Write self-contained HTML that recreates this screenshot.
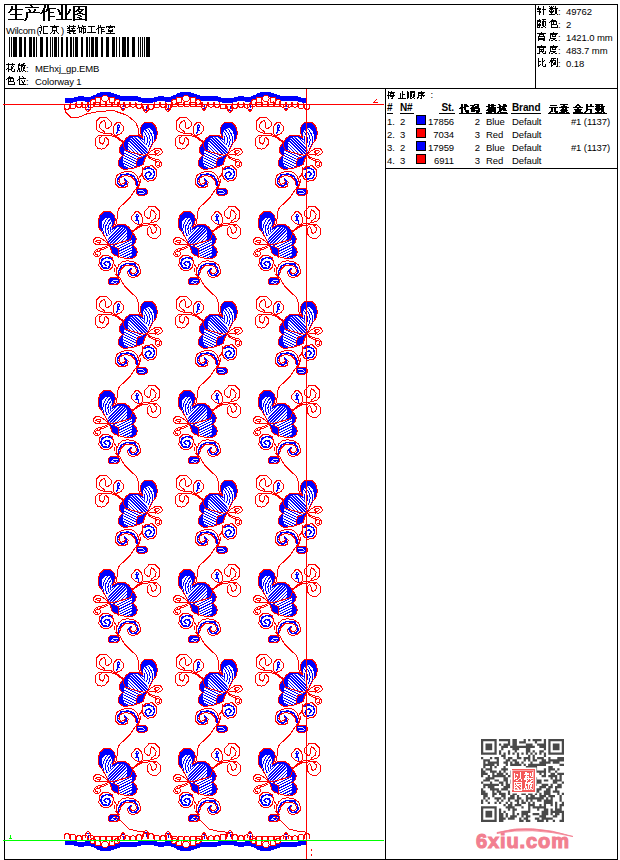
<!DOCTYPE html><html><head><meta charset="utf-8"><style>html,body{margin:0;padding:0;background:#fff;width:620px;height:860px;overflow:hidden}svg{position:absolute;left:0;top:0}text{font-family:"Liberation Sans",sans-serif}</style></head><body>
<svg width="620" height="860" viewBox="0 0 620 860">
<defs>
<clipPath id="cLobe"><path d="M30,20 L54,27 L54,31 L59,44 L30,46Z"/></clipPath><clipPath id="cPet"><path d="M52,8 L72,8 L72,36 L59,44 L54,31 L54,27Z"/></clipPath>
<g id="motif">
<clipPath id="cUW"><path d="M38.2,40.4 L38.0,33.0 L40.0,28.4 L44.0,27.3 L48.0,27.5 L51.0,29.0 L53.2,30.2 L53.2,25.0 L53.5,22.3 L55.0,19.2 L57.5,18.2 L60.0,18.5 L63.0,21.3 L63.8,26.0 L63.8,32.0 L61.3,37.0 L58.0,43.2 L55.0,44.8 L44.4,42.8Z"/></clipPath>
<clipPath id="cLW"><path d="M33.8,40.1 L44.4,43.6 L55.5,45.6 L50.0,47.3 L46.8,49.3 L46.2,57.5 L42.0,59.0 L37.0,58.8 L34.0,56.8 L33.3,52.0 L33.3,48.0 L33.6,45.5Z"/></clipPath>
<path d="M33.4,32.3 L36.6,27.7 L40.5,25.2 L47.6,25.2 L50.8,26.5 L53.2,28.2 L51.2,24.5 L50.1,19.6 L51.5,15.5 L55.1,12.3 L61.8,12.3 L65.5,15.8 L67.5,22.4 L66.5,28.5 L63.2,33.0 L60.0,38.5 L57.3,44.5 L54.0,45.2 L47.6,43.9 L41.1,41.9 L35.3,40.0 L33.5,36.0Z M33.4,32.3 L30.2,36.8 L29.2,39.4 L30.2,43.2 L32.5,45.5 L29.5,49.0 L28.2,52.3 L28.9,56.1 L33.4,59.4 L41.1,58.7 L46.3,57.4 L50.0,56.0 L53.2,54.2 L54.8,49.0 L57.3,44.5 L54.0,45.2 L47.6,43.9 L41.1,41.9 L35.3,40.0 L33.5,36.0Z" fill="#00f"/>
<path d="M38.2,40.4 L38.0,33.0 L40.0,28.4 L44.0,27.3 L48.0,27.5 L51.0,29.0 L53.2,30.2 L53.2,25.0 L53.5,22.3 L55.0,19.2 L57.5,18.2 L60.0,18.5 L63.0,21.3 L63.8,26.0 L63.8,32.0 L61.3,37.0 L58.0,43.2 L55.0,44.8 L44.4,42.8Z M33.8,40.1 L44.4,43.6 L55.5,45.6 L50.0,47.3 L46.8,49.3 L46.2,57.5 L42.0,59.0 L37.0,58.8 L34.0,56.8 L33.3,52.0 L33.3,48.0 L33.6,45.5Z" fill="#fff"/>
<g clip-path="url(#cUW)"><path d="M53.9,34.0 A8,8 0 0,0 45.4,22.2 M56.1,35.2 A10.5,10.5 0 0,0 44.9,19.7 M58.3,36.5 A13,13 0 0,0 44.4,17.3 M60.4,37.8 A15.5,15.5 0 0,0 43.9,14.8" stroke="#00f" fill="none" clip-path="url(#cPet)"/></g>
<g clip-path="url(#cUW)"><path d="M44.5,-4.3 L83.8,35.0 M42.9,-2.8 L82.3,36.6 M41.4,-1.2 L80.7,38.1 M39.8,0.3 L79.2,39.7 M38.3,1.9 L77.6,41.2 M36.7,3.5 L76.0,42.8 M35.2,5.0 L74.5,44.3 M33.6,6.6 L72.9,45.9 M32.1,8.1 L71.4,47.4 M30.5,9.7 L69.8,49.0 M28.9,11.2 L68.3,50.6 M27.4,12.8 L66.7,52.1 M25.8,14.3 L65.2,53.7 M24.3,15.9 L63.6,55.2 M22.7,17.5 L62.0,56.8 M21.2,19.0 L60.5,58.3 M19.6,20.6 L58.9,59.9 M18.1,22.1 L57.4,61.4 M16.5,23.7 L55.8,63.0 M14.9,25.2 L54.3,64.6 M13.4,26.8 L52.7,66.1 M11.8,28.3 L51.2,67.7 M10.3,29.9 L49.6,69.2 M8.7,31.5 L48.0,70.8 M7.2,33.0 L46.5,72.3 M5.6,34.6 L44.9,73.9" stroke="#00f" fill="none" clip-path="url(#cLobe)"/></g>
<g clip-path="url(#cLW)"><path d="M25.8,-1.5 L94.5,32.8 M24.7,0.6 L93.5,35.0 M23.7,2.7 L92.4,37.1 M22.6,4.9 L91.3,39.3 M21.5,7.0 L90.3,41.4 M20.5,9.2 L89.2,43.6 M19.4,11.3 L88.1,45.7 M18.3,13.5 L87.0,47.8 M17.2,15.6 L86.0,50.0 M16.2,17.8 L84.9,52.1 M15.1,19.9 L83.8,54.3 M14.0,22.1 L82.7,56.4 M12.9,24.2 L81.7,58.6 M11.9,26.4 L80.6,60.7 M10.8,28.5 L79.5,62.9 M9.7,30.7 L78.4,65.0 M8.6,32.8 L77.4,67.2 M7.6,34.9 L76.3,69.3 M6.5,37.1 L75.2,71.5 M5.4,39.2 L74.2,73.6 M4.4,41.4 L73.1,75.8 M3.3,43.5 L72.0,77.9 M2.2,45.7 L70.9,80.0 M1.1,47.8 L69.9,82.2 M0.1,50.0 L68.8,84.3 M-1.0,52.1 L67.7,86.5 M-2.1,54.3 L66.6,88.6 M-3.2,56.4 L65.6,90.8 M-4.2,58.6 L64.5,92.9 M-5.3,60.7 L63.4,95.1 M-6.4,62.9 L62.3,97.2 M-7.5,65.0 L61.3,99.4 M-8.5,67.1 L60.2,101.5" stroke="#00f" fill="none"/></g>
<path d="M33.4,32.3 L36.6,27.7 L40.5,25.2 L47.6,25.2 L50.8,26.5 L53.2,28.2 L51.2,24.5 L50.1,19.6 L51.5,15.5 L55.1,12.3 L61.8,12.3 L65.5,15.8 L67.5,22.4 L66.5,28.5 L63.2,33.0 L60.0,38.5 L57.3,44.5 L54.0,45.2 L47.6,43.9 L41.1,41.9 L35.3,40.0 L33.5,36.0Z" stroke="#f00" stroke-width="1" fill="none"/>
<path d="M33.4,32.3 L30.2,36.8 L29.2,39.4 L30.2,43.2 L32.5,45.5 L29.5,49.0 L28.2,52.3 L28.9,56.1 L33.4,59.4 L41.1,58.7 L46.3,57.4 L50.0,56.0 L53.2,54.2 L54.8,49.0 L57.3,44.5 L54.0,45.2 L47.6,43.9 L41.1,41.9 L35.3,40.0 L33.5,36.0Z" stroke="#f00" stroke-width="1" fill="none"/>
<path d="M52,47 L47.5,48.8 L46.5,53 L46.8,58.2 M34.3,46 L32,45.5" stroke="#f00" stroke-width="1" fill="none"/>
<path d="M14.6,23.4 L8.4,21.4 L6.2,18.8 L6.2,11.1 L10.1,7.2 L16.5,7.2 L21.4,12.4 L21.4,15.6 L18.1,18.5 L16.2,18.5 L15.2,16.6 L15.5,12.4 L13.9,10.5 L12.0,11.4 L9.4,14.6 L10.1,18.5 L14.3,21.7 L14.6,23.4 M12.0,26.3 L8.4,25.3 L5.5,28.5 L5.2,35.0 L7.8,38.2 L11.3,39.2 L14.9,38.2 L18.1,34.3 L18.5,29.8 L15.9,27.2 L14.6,28.5 L14.3,31.7 L12.6,34.3 L10.4,33.0 L9.1,31.1 L9.4,28.2 L12.0,26.3 M23.3,17.5 L24.3,15.3 L27.5,12.1 L29.7,12.1 L33.6,16.9 L33.6,20.1 L31.0,23.4 L27.5,25.0 L25.2,25.0 L23.3,23.4Z" stroke="#f00" fill="none"/>
<path d="M14.3,23.4 L21.4,24 L24,25.4 L28,27.5 L33.6,32 M8.45,25.3 L15.5,25.3 L23.3,26.2 L28,28.5 L33,33" stroke="#f00" fill="none"/>
<path d="M26.5,24 L28,20 L27.2,16 L28.5,14.5 L29.5,17 L28,19.5 L30.5,21.5" stroke="#00f" stroke-width="1.2" fill="none"/>
<path d="M57.5,45 L58.7,43 L62,40.5 L65.8,38.2 L69.6,38.2 L71.7,40.1 L72.5,42.4 L70.4,44.3 L68.4,45.5 L65.8,44.3 L64.6,41.7 L65.8,40.9 L68.4,40.5 L69.6,41.7 L67.9,43 L65.8,43.4 M57.5,45.5 L61,44.5 L64,44.5 L66,45.5" stroke="#f00" fill="none"/>
<path d="M57.5,45.9 L60.4,47.6 L64.6,48.9 L68.8,49.7 L71.3,52.2 L71.7,55.2 L70,56.8 L67.5,57.3 L65.4,55.6 L65.4,52.6 L67.9,51.4 L70,52.6 L69.6,55.2 L67.5,55.6 M58,47.5 L61.2,49.3 L65.2,50.6 L66.3,51.8" stroke="#f00" fill="none"/>
<path d="M52.6,59.7 L56.5,56.3 L62.3,55.8 L66.1,59.7 L66.6,66.5 L63.2,70.4 L57.4,71.3 L53.6,68.4 L52.1,63.6 Z" stroke="#f00" fill="none"/>
<path d="M53.6,59.7 L58.4,57.8 L63.2,59.7 L64.7,64.6 L62.3,68.4 L57.4,68.9 L55,65.5 L56.5,62.6 L59.4,62.1 L61.3,64.1 L59.4,66.5" stroke="#00f" stroke-width="1.5" fill="none"/>
<path d="M36.1,69.9 L38.1,72.3 L37.1,76.2 L33.2,78.1 L28.4,77.1 L25.5,74.2 L25.5,69.4 L26.9,65.5 L31.3,62.6 L38.1,61.2 L42.9,62.1 L46.8,65.5 L48.7,70.4 L49.7,75.2 L48.2,77.1 L45.8,74.2 L44.8,70.4 L41.0,66.5 L35.2,65.5 L30.3,67.5 L28.9,71.3 L30.8,74.2 L34.2,73.7 L35.2,71.3 L34.0,69.5" stroke="#f00" fill="none"/>
<path d="M47.3,76.2 L46.8,71.3 L43.9,66.5 L39,64.1 L31.3,64.6 L28,68.5 L27.5,72.5 L29.5,75.5 L33,76 L36,74 L36.5,71 L34.5,68.5" stroke="#00f" stroke-width="1.5" fill="none"/>
<path d="M53,57.5 L52.5,61 L51.6,64.6 L48.7,68.4 L49.2,73.3 L47.8,76.7 L45.8,78.6 M50.5,69 L51,72.5" stroke="#f00" fill="none"/>
<path d="M46.0,80.0 L48.0,78.4 L55.5,78.3 L57.5,80.5 L57.2,84.0 L54.5,85.5 L49.0,85.3 L46.5,83.5Z" fill="#00f" stroke="#f00"/>
<path d="M48,81 L51,80.5 L54,81.5 M49,83.3 L52,83.8 L55,82.8" stroke="#fff" stroke-width="0.9" fill="none"/>
</g>
<path id="stem" d="M45.5,79 L40.6,86.9 L34.2,93.4 L29.4,97.4 L27.3,103 L26.9,111.9 L25.3,115.2" stroke="#f00" fill="none"/>
</defs>
<g shape-rendering="crispEdges">
<use href="#motif" xlink:href="#motif" transform="translate(90,110.0)"/>
<use href="#stem" xlink:href="#stem" transform="translate(90,110.0)"/>
<use href="#motif" xlink:href="#motif" transform="translate(170,110.0)"/>
<use href="#stem" xlink:href="#stem" transform="translate(170,110.0)"/>
<use href="#motif" xlink:href="#motif" transform="translate(250,110.0)"/>
<use href="#stem" xlink:href="#stem" transform="translate(250,110.0)"/>
<use href="#motif" xlink:href="#motif" transform="translate(165.5,199.5) scale(-1,1)"/>
<use href="#stem" xlink:href="#stem" transform="translate(165.5,199.5) scale(-1,1)"/>
<use href="#motif" xlink:href="#motif" transform="translate(245.5,199.5) scale(-1,1)"/>
<use href="#stem" xlink:href="#stem" transform="translate(245.5,199.5) scale(-1,1)"/>
<use href="#motif" xlink:href="#motif" transform="translate(325.5,199.5) scale(-1,1)"/>
<use href="#stem" xlink:href="#stem" transform="translate(325.5,199.5) scale(-1,1)"/>
<use href="#motif" xlink:href="#motif" transform="translate(90,289.0)"/>
<use href="#stem" xlink:href="#stem" transform="translate(90,289.0)"/>
<use href="#motif" xlink:href="#motif" transform="translate(170,289.0)"/>
<use href="#stem" xlink:href="#stem" transform="translate(170,289.0)"/>
<use href="#motif" xlink:href="#motif" transform="translate(250,289.0)"/>
<use href="#stem" xlink:href="#stem" transform="translate(250,289.0)"/>
<use href="#motif" xlink:href="#motif" transform="translate(165.5,378.5) scale(-1,1)"/>
<use href="#stem" xlink:href="#stem" transform="translate(165.5,378.5) scale(-1,1)"/>
<use href="#motif" xlink:href="#motif" transform="translate(245.5,378.5) scale(-1,1)"/>
<use href="#stem" xlink:href="#stem" transform="translate(245.5,378.5) scale(-1,1)"/>
<use href="#motif" xlink:href="#motif" transform="translate(325.5,378.5) scale(-1,1)"/>
<use href="#stem" xlink:href="#stem" transform="translate(325.5,378.5) scale(-1,1)"/>
<use href="#motif" xlink:href="#motif" transform="translate(90,468.0)"/>
<use href="#stem" xlink:href="#stem" transform="translate(90,468.0)"/>
<use href="#motif" xlink:href="#motif" transform="translate(170,468.0)"/>
<use href="#stem" xlink:href="#stem" transform="translate(170,468.0)"/>
<use href="#motif" xlink:href="#motif" transform="translate(250,468.0)"/>
<use href="#stem" xlink:href="#stem" transform="translate(250,468.0)"/>
<use href="#motif" xlink:href="#motif" transform="translate(165.5,557.5) scale(-1,1)"/>
<use href="#stem" xlink:href="#stem" transform="translate(165.5,557.5) scale(-1,1)"/>
<use href="#motif" xlink:href="#motif" transform="translate(245.5,557.5) scale(-1,1)"/>
<use href="#stem" xlink:href="#stem" transform="translate(245.5,557.5) scale(-1,1)"/>
<use href="#motif" xlink:href="#motif" transform="translate(325.5,557.5) scale(-1,1)"/>
<use href="#stem" xlink:href="#stem" transform="translate(325.5,557.5) scale(-1,1)"/>
<use href="#motif" xlink:href="#motif" transform="translate(90,647.0)"/>
<use href="#stem" xlink:href="#stem" transform="translate(90,647.0)"/>
<use href="#motif" xlink:href="#motif" transform="translate(170,647.0)"/>
<use href="#stem" xlink:href="#stem" transform="translate(170,647.0)"/>
<use href="#motif" xlink:href="#motif" transform="translate(250,647.0)"/>
<use href="#stem" xlink:href="#stem" transform="translate(250,647.0)"/>
<use href="#motif" xlink:href="#motif" transform="translate(165.5,736.5) scale(-1,1)"/>
<use href="#motif" xlink:href="#motif" transform="translate(245.5,736.5) scale(-1,1)"/>
<use href="#motif" xlink:href="#motif" transform="translate(325.5,736.5) scale(-1,1)"/>
<path d="M114,816 L119,819.5 L123,823 L129,829 L137,831 L144,831.5 L148,834" stroke="#f00" fill="none"/>
<path d="M194,816 L199,819.5 L203,823 L209,829 L217,831 L224,831.5 L228,834" stroke="#f00" fill="none"/>
<path d="M274,816 L279,819.5 L283,823 L289,829 L297,831 L304,831.5 L308,834" stroke="#f00" fill="none"/>
<path d="M64,107 L65.5,112 L71,117.4 L79.4,117 L87.1,113.8 L99.5,111.2 L114,110.8 L127,115.2 L135.8,122.4 L138.7,130 L138,134 L142,137" stroke="#f00" fill="none"/>
</g>
<g shape-rendering="crispEdges"><path d="M65.0,98.1 L66.0,98.2 L67.0,98.2 L68.0,98.2 L69.0,98.2 L70.0,98.2 L71.0,98.2 L72.0,98.0 L73.0,97.7 L74.0,97.5 L75.0,97.2 L76.0,97.0 L77.0,96.7 L78.0,96.5 L79.0,96.2 L80.0,96.2 L81.0,96.2 L82.0,96.3 L83.0,96.3 L84.0,96.5 L85.0,96.7 L86.0,96.8 L87.0,97.0 L88.0,97.2 L89.0,97.4 L90.0,97.0 L91.0,96.6 L92.0,96.2 L93.0,95.7 L94.0,95.3 L95.0,94.9 L96.0,94.3 L97.0,93.7 L98.0,93.1 L99.0,92.7 L100.0,92.4 L101.0,92.0 L102.0,92.0 L103.0,92.0 L104.0,92.0 L105.0,92.0 L106.0,92.0 L107.0,92.0 L108.0,92.0 L109.0,92.0 L110.0,92.3 L111.0,92.6 L112.0,92.9 L113.0,93.2 L114.0,93.5 L115.0,93.8 L116.0,94.2 L117.0,94.5 L118.0,94.9 L119.0,95.3 L120.0,95.6 L121.0,96.0 L122.0,96.0 L123.0,96.0 L124.0,96.0 L125.0,96.0 L126.0,96.0 L127.0,96.0 L128.0,96.0 L129.0,96.0 L130.0,96.0 L131.0,96.0 L132.0,96.0 L133.0,96.0 L134.0,96.0 L135.0,96.0 L136.0,96.0 L137.0,96.3 L138.0,96.7 L139.0,97.1 L140.0,97.4 L141.0,97.5 L142.0,97.7 L143.0,97.8 L144.0,97.9 L145.0,98.1 L146.0,98.2 L147.0,98.2 L148.0,98.2 L149.0,98.2 L150.0,98.2 L151.0,98.2 L152.0,98.0 L153.0,97.7 L154.0,97.5 L155.0,97.2 L156.0,97.0 L157.0,96.7 L158.0,96.5 L159.0,96.2 L160.0,96.2 L161.0,96.2 L162.0,96.3 L163.0,96.3 L164.0,96.5 L165.0,96.7 L166.0,96.8 L167.0,97.0 L168.0,97.2 L169.0,97.4 L170.0,97.0 L171.0,96.6 L172.0,96.2 L173.0,95.7 L174.0,95.3 L175.0,94.9 L176.0,94.3 L177.0,93.7 L178.0,93.1 L179.0,92.7 L180.0,92.4 L181.0,92.0 L182.0,92.0 L183.0,92.0 L184.0,92.0 L185.0,92.0 L186.0,92.0 L187.0,92.0 L188.0,92.0 L189.0,92.0 L190.0,92.3 L191.0,92.6 L192.0,92.9 L193.0,93.2 L194.0,93.5 L195.0,93.8 L196.0,94.2 L197.0,94.5 L198.0,94.9 L199.0,95.3 L200.0,95.6 L201.0,96.0 L202.0,96.0 L203.0,96.0 L204.0,96.0 L205.0,96.0 L206.0,96.0 L207.0,96.0 L208.0,96.0 L209.0,96.0 L210.0,96.0 L211.0,96.0 L212.0,96.0 L213.0,96.0 L214.0,96.0 L215.0,96.0 L216.0,96.0 L217.0,96.3 L218.0,96.7 L219.0,97.1 L220.0,97.4 L221.0,97.5 L222.0,97.7 L223.0,97.8 L224.0,97.9 L225.0,98.1 L226.0,98.2 L227.0,98.2 L228.0,98.2 L229.0,98.2 L230.0,98.2 L231.0,98.2 L232.0,98.0 L233.0,97.7 L234.0,97.5 L235.0,97.2 L236.0,97.0 L237.0,96.7 L238.0,96.5 L239.0,96.2 L240.0,96.2 L241.0,96.2 L242.0,96.3 L243.0,96.3 L244.0,96.5 L245.0,96.7 L246.0,96.8 L247.0,97.0 L248.0,97.2 L249.0,97.4 L250.0,97.0 L251.0,96.6 L252.0,96.2 L253.0,95.7 L254.0,95.3 L255.0,94.9 L256.0,94.3 L257.0,93.7 L258.0,93.1 L259.0,92.7 L260.0,92.4 L261.0,92.0 L262.0,92.0 L263.0,92.0 L264.0,92.0 L265.0,92.0 L266.0,92.0 L267.0,92.0 L268.0,92.0 L269.0,92.0 L270.0,92.3 L271.0,92.6 L272.0,92.9 L273.0,93.2 L274.0,93.5 L275.0,93.8 L276.0,94.2 L277.0,94.5 L278.0,94.9 L279.0,95.3 L280.0,95.6 L281.0,96.0 L282.0,96.0 L283.0,96.0 L284.0,96.0 L285.0,96.0 L286.0,96.0 L287.0,96.0 L288.0,96.0 L289.0,96.0 L290.0,96.0 L291.0,96.0 L292.0,96.0 L293.0,96.0 L294.0,96.0 L295.0,96.0 L296.0,96.0 L297.0,96.3 L298.0,96.7 L299.0,97.1 L300.0,97.4 L301.0,97.5 L302.0,97.7 L303.0,97.8 L304.0,97.9 L305.0,98.1 L306.0,98.2 L306.0,103.0 L305.0,102.9 L304.0,102.7 L303.0,102.6 L302.0,102.5 L301.0,102.3 L300.0,102.2 L299.0,101.9 L298.0,101.5 L297.0,101.1 L296.0,100.8 L295.0,100.8 L294.0,100.8 L293.0,100.8 L292.0,100.8 L291.0,100.8 L290.0,100.8 L289.0,100.8 L288.0,100.8 L287.0,100.8 L286.0,100.8 L285.0,100.8 L284.0,100.8 L283.0,100.8 L282.0,100.8 L281.0,100.8 L280.0,100.4 L279.0,100.1 L278.0,99.7 L277.0,99.3 L276.0,99.0 L275.0,98.6 L274.0,98.3 L273.0,98.0 L272.0,97.7 L271.0,97.4 L270.0,97.1 L269.0,96.8 L268.0,96.8 L267.0,96.8 L266.0,96.8 L265.0,96.8 L264.0,96.8 L263.0,96.8 L262.0,96.8 L261.0,96.8 L260.0,97.2 L259.0,97.5 L258.0,97.9 L257.0,98.5 L256.0,99.1 L255.0,99.7 L254.0,100.1 L253.0,100.5 L252.0,101.0 L251.0,101.4 L250.0,101.8 L249.0,102.2 L248.0,102.0 L247.0,101.8 L246.0,101.6 L245.0,101.5 L244.0,101.3 L243.0,101.1 L242.0,101.1 L241.0,101.0 L240.0,101.0 L239.0,101.0 L238.0,101.2 L237.0,101.5 L236.0,101.8 L235.0,102.0 L234.0,102.2 L233.0,102.5 L232.0,102.8 L231.0,103.0 L230.0,103.0 L229.0,103.0 L228.0,103.0 L227.0,103.0 L226.0,103.0 L225.0,102.9 L224.0,102.7 L223.0,102.6 L222.0,102.5 L221.0,102.3 L220.0,102.2 L219.0,101.9 L218.0,101.5 L217.0,101.1 L216.0,100.8 L215.0,100.8 L214.0,100.8 L213.0,100.8 L212.0,100.8 L211.0,100.8 L210.0,100.8 L209.0,100.8 L208.0,100.8 L207.0,100.8 L206.0,100.8 L205.0,100.8 L204.0,100.8 L203.0,100.8 L202.0,100.8 L201.0,100.8 L200.0,100.4 L199.0,100.1 L198.0,99.7 L197.0,99.3 L196.0,99.0 L195.0,98.6 L194.0,98.3 L193.0,98.0 L192.0,97.7 L191.0,97.4 L190.0,97.1 L189.0,96.8 L188.0,96.8 L187.0,96.8 L186.0,96.8 L185.0,96.8 L184.0,96.8 L183.0,96.8 L182.0,96.8 L181.0,96.8 L180.0,97.2 L179.0,97.5 L178.0,97.9 L177.0,98.5 L176.0,99.1 L175.0,99.7 L174.0,100.1 L173.0,100.5 L172.0,101.0 L171.0,101.4 L170.0,101.8 L169.0,102.2 L168.0,102.0 L167.0,101.8 L166.0,101.6 L165.0,101.5 L164.0,101.3 L163.0,101.1 L162.0,101.1 L161.0,101.0 L160.0,101.0 L159.0,101.0 L158.0,101.2 L157.0,101.5 L156.0,101.8 L155.0,102.0 L154.0,102.2 L153.0,102.5 L152.0,102.8 L151.0,103.0 L150.0,103.0 L149.0,103.0 L148.0,103.0 L147.0,103.0 L146.0,103.0 L145.0,102.9 L144.0,102.7 L143.0,102.6 L142.0,102.5 L141.0,102.3 L140.0,102.2 L139.0,101.9 L138.0,101.5 L137.0,101.1 L136.0,100.8 L135.0,100.8 L134.0,100.8 L133.0,100.8 L132.0,100.8 L131.0,100.8 L130.0,100.8 L129.0,100.8 L128.0,100.8 L127.0,100.8 L126.0,100.8 L125.0,100.8 L124.0,100.8 L123.0,100.8 L122.0,100.8 L121.0,100.8 L120.0,100.4 L119.0,100.1 L118.0,99.7 L117.0,99.3 L116.0,99.0 L115.0,98.6 L114.0,98.3 L113.0,98.0 L112.0,97.7 L111.0,97.4 L110.0,97.1 L109.0,96.8 L108.0,96.8 L107.0,96.8 L106.0,96.8 L105.0,96.8 L104.0,96.8 L103.0,96.8 L102.0,96.8 L101.0,96.8 L100.0,97.2 L99.0,97.5 L98.0,97.9 L97.0,98.5 L96.0,99.1 L95.0,99.7 L94.0,100.1 L93.0,100.5 L92.0,101.0 L91.0,101.4 L90.0,101.8 L89.0,102.2 L88.0,102.0 L87.0,101.8 L86.0,101.6 L85.0,101.5 L84.0,101.3 L83.0,101.1 L82.0,101.1 L81.0,101.0 L80.0,101.0 L79.0,101.0 L78.0,101.2 L77.0,101.5 L76.0,101.8 L75.0,102.0 L74.0,102.2 L73.0,102.5 L72.0,102.8 L71.0,103.0 L70.0,103.0 L69.0,103.0 L68.0,103.0 L67.0,103.0 L66.0,103.0 L65.0,102.9Z" fill="#00f"/><path d="M95.0,100.0 a3,3 0 1,0 6,0 a3,3 0 1,0 -6,0 M101.8,98.5 a3.2,3.2 0 1,0 6.4,0 a3.2,3.2 0 1,0 -6.4,0 M109.0,100.0 a3,3 0 1,0 6,0 a3,3 0 1,0 -6,0 M90.5,102.0 a2.5,2.5 0 1,0 5.0,0 a2.5,2.5 0 1,0 -5.0,0 M114.5,102.0 a2.5,2.5 0 1,0 5.0,0 a2.5,2.5 0 1,0 -5.0,0 M176.0,100.0 a3,3 0 1,0 6,0 a3,3 0 1,0 -6,0 M182.8,98.5 a3.2,3.2 0 1,0 6.4,0 a3.2,3.2 0 1,0 -6.4,0 M190.0,100.0 a3,3 0 1,0 6,0 a3,3 0 1,0 -6,0 M171.5,102.0 a2.5,2.5 0 1,0 5.0,0 a2.5,2.5 0 1,0 -5.0,0 M195.5,102.0 a2.5,2.5 0 1,0 5.0,0 a2.5,2.5 0 1,0 -5.0,0 M256.0,100.0 a3,3 0 1,0 6,0 a3,3 0 1,0 -6,0 M262.8,98.5 a3.2,3.2 0 1,0 6.4,0 a3.2,3.2 0 1,0 -6.4,0 M270.0,100.0 a3,3 0 1,0 6,0 a3,3 0 1,0 -6,0 M251.5,102.0 a2.5,2.5 0 1,0 5.0,0 a2.5,2.5 0 1,0 -5.0,0 M275.5,102.0 a2.5,2.5 0 1,0 5.0,0 a2.5,2.5 0 1,0 -5.0,0" stroke="#f00" fill="#fff"/><path d="M64.2,103.9 L64.2,106.4 a2.8,3 0 0,0 5.6,0 L69.8,103.9 M70.2,103.4 L70.2,105.9 a2.8,3 0 0,0 5.6,0 L75.8,103.4 M76.2,101.9 L76.2,104.4 a2.8,3 0 0,0 5.6,0 L81.8,101.9 M82.2,102.4 L82.2,104.9 a2.8,3 0 0,0 5.6,0 L87.8,102.4 M88.2,102.3 L88.2,104.8 a2.8,3 0 0,0 5.6,0 L93.8,102.3 M94.2,101.5 L94.2,104.0 a2.8,3 0 0,0 5.6,0 L99.8,101.5 M100.2,101.5 L100.2,104.0 a2.8,3 0 0,0 5.6,0 L105.8,101.5 M106.2,101.5 L106.2,104.0 a2.8,3 0 0,0 5.6,0 L111.8,101.5 M112.2,101.5 L112.2,104.0 a2.8,3 0 0,0 5.6,0 L117.8,101.5 M118.2,101.7 L118.2,104.2 a2.8,3 0 0,0 5.6,0 L123.8,101.7 M124.2,101.7 L124.2,104.2 a2.8,3 0 0,0 5.6,0 L129.8,101.7 M130.2,101.7 L130.2,104.2 a2.8,3 0 0,0 5.6,0 L135.8,101.7 M136.2,102.8 L136.2,105.3 a2.8,3 0 0,0 5.6,0 L141.8,102.8 M142.2,103.8 L142.2,106.3 a2.8,3 0 0,0 5.6,0 L147.8,103.8 M148.2,103.9 L148.2,106.4 a2.8,3 0 0,0 5.6,0 L153.8,103.9 M154.2,102.4 L154.2,104.9 a2.8,3 0 0,0 5.6,0 L159.8,102.4 M160.2,102.0 L160.2,104.5 a2.8,3 0 0,0 5.6,0 L165.8,102.0 M166.2,103.1 L166.2,105.6 a2.8,3 0 0,0 5.6,0 L171.8,103.1 M172.2,101.5 L172.2,104.0 a2.8,3 0 0,0 5.6,0 L177.8,101.5 M178.2,101.5 L178.2,104.0 a2.8,3 0 0,0 5.6,0 L183.8,101.5 M184.2,101.5 L184.2,104.0 a2.8,3 0 0,0 5.6,0 L189.8,101.5 M190.2,101.5 L190.2,104.0 a2.8,3 0 0,0 5.6,0 L195.8,101.5 M196.2,101.5 L196.2,104.0 a2.8,3 0 0,0 5.6,0 L201.8,101.5 M202.2,101.7 L202.2,104.2 a2.8,3 0 0,0 5.6,0 L207.8,101.7 M208.2,101.7 L208.2,104.2 a2.8,3 0 0,0 5.6,0 L213.8,101.7 M214.2,102.0 L214.2,104.5 a2.8,3 0 0,0 5.6,0 L219.8,102.0 M220.2,103.5 L220.2,106.0 a2.8,3 0 0,0 5.6,0 L225.8,103.5 M226.2,103.9 L226.2,106.4 a2.8,3 0 0,0 5.6,0 L231.8,103.9 M232.2,102.9 L232.2,105.4 a2.8,3 0 0,0 5.6,0 L237.8,102.9 M238.2,102.0 L238.2,104.5 a2.8,3 0 0,0 5.6,0 L243.8,102.0 M244.2,102.7 L244.2,105.2 a2.8,3 0 0,0 5.6,0 L249.8,102.7 M250.2,101.5 L250.2,104.0 a2.8,3 0 0,0 5.6,0 L255.8,101.5 M256.2,101.5 L256.2,104.0 a2.8,3 0 0,0 5.6,0 L261.8,101.5 M262.2,101.5 L262.2,104.0 a2.8,3 0 0,0 5.6,0 L267.8,101.5 M268.2,101.5 L268.2,104.0 a2.8,3 0 0,0 5.6,0 L273.8,101.5 M274.2,101.5 L274.2,104.0 a2.8,3 0 0,0 5.6,0 L279.8,101.5 M280.2,101.7 L280.2,104.2 a2.8,3 0 0,0 5.6,0 L285.8,101.7 M286.2,101.7 L286.2,104.2 a2.8,3 0 0,0 5.6,0 L291.8,101.7 M292.2,101.7 L292.2,104.2 a2.8,3 0 0,0 5.6,0 L297.8,101.7 M298.2,103.2 L298.2,105.7 a2.8,3 0 0,0 5.6,0 L303.8,103.2 M304.2,103.9 L304.2,106.4 a2.8,3 0 0,0 5.6,0 L309.8,103.9 M85.5,105.4 L85.5,108.9 L88.0,111.9 L90.5,108.9 L90.5,105.4 M120.5,104.2 L120.5,107.7 L123.0,110.7 L125.5,107.7 L125.5,104.2 M143.5,106.4 L143.5,109.9 L146.0,112.9 L148.5,109.9 L148.5,106.4 M165.5,105.4 L165.5,108.9 L168.0,111.9 L170.5,108.9 L170.5,105.4 M201.5,104.2 L201.5,107.7 L204.0,110.7 L206.5,107.7 L206.5,104.2 M227.5,106.4 L227.5,109.9 L230.0,112.9 L232.5,109.9 L232.5,106.4 M247.5,105.2 L247.5,108.7 L250.0,111.7 L252.5,108.7 L252.5,105.2 M283.5,104.2 L283.5,107.7 L286.0,110.7 L288.5,107.7 L288.5,104.2" stroke="#f00" fill="none"/><path d="M88.0,105.4 L88.0,108.4 M87.0,109.4 L89.0,109.4 M123.0,104.2 L123.0,107.2 M122.0,108.2 L124.0,108.2 M146.0,106.4 L146.0,109.4 M145.0,110.4 L147.0,110.4 M168.0,105.4 L168.0,108.4 M167.0,109.4 L169.0,109.4 M204.0,104.2 L204.0,107.2 M203.0,108.2 L205.0,108.2 M230.0,106.4 L230.0,109.4 M229.0,110.4 L231.0,110.4 M250.0,105.2 L250.0,108.2 M249.0,109.2 L251.0,109.2 M286.0,104.2 L286.0,107.2 M285.0,108.2 L287.0,108.2" stroke="#00f" fill="none"/></g><g shape-rendering="crispEdges" transform="matrix(1,0,0,-1,0,943)"><path d="M65.0,98.1 L66.0,98.2 L67.0,98.2 L68.0,98.2 L69.0,98.2 L70.0,98.2 L71.0,98.2 L72.0,98.0 L73.0,97.7 L74.0,97.5 L75.0,97.2 L76.0,97.0 L77.0,96.7 L78.0,96.5 L79.0,96.2 L80.0,96.2 L81.0,96.2 L82.0,96.3 L83.0,96.3 L84.0,96.5 L85.0,96.7 L86.0,96.8 L87.0,97.0 L88.0,97.2 L89.0,97.4 L90.0,97.0 L91.0,96.6 L92.0,96.2 L93.0,95.7 L94.0,95.3 L95.0,94.9 L96.0,94.3 L97.0,93.7 L98.0,93.1 L99.0,92.7 L100.0,92.4 L101.0,92.0 L102.0,92.0 L103.0,92.0 L104.0,92.0 L105.0,92.0 L106.0,92.0 L107.0,92.0 L108.0,92.0 L109.0,92.0 L110.0,92.3 L111.0,92.6 L112.0,92.9 L113.0,93.2 L114.0,93.5 L115.0,93.8 L116.0,94.2 L117.0,94.5 L118.0,94.9 L119.0,95.3 L120.0,95.6 L121.0,96.0 L122.0,96.0 L123.0,96.0 L124.0,96.0 L125.0,96.0 L126.0,96.0 L127.0,96.0 L128.0,96.0 L129.0,96.0 L130.0,96.0 L131.0,96.0 L132.0,96.0 L133.0,96.0 L134.0,96.0 L135.0,96.0 L136.0,96.0 L137.0,96.3 L138.0,96.7 L139.0,97.1 L140.0,97.4 L141.0,97.5 L142.0,97.7 L143.0,97.8 L144.0,97.9 L145.0,98.1 L146.0,98.2 L147.0,98.2 L148.0,98.2 L149.0,98.2 L150.0,98.2 L151.0,98.2 L152.0,98.0 L153.0,97.7 L154.0,97.5 L155.0,97.2 L156.0,97.0 L157.0,96.7 L158.0,96.5 L159.0,96.2 L160.0,96.2 L161.0,96.2 L162.0,96.3 L163.0,96.3 L164.0,96.5 L165.0,96.7 L166.0,96.8 L167.0,97.0 L168.0,97.2 L169.0,97.4 L170.0,97.0 L171.0,96.6 L172.0,96.2 L173.0,95.7 L174.0,95.3 L175.0,94.9 L176.0,94.3 L177.0,93.7 L178.0,93.1 L179.0,92.7 L180.0,92.4 L181.0,92.0 L182.0,92.0 L183.0,92.0 L184.0,92.0 L185.0,92.0 L186.0,92.0 L187.0,92.0 L188.0,92.0 L189.0,92.0 L190.0,92.3 L191.0,92.6 L192.0,92.9 L193.0,93.2 L194.0,93.5 L195.0,93.8 L196.0,94.2 L197.0,94.5 L198.0,94.9 L199.0,95.3 L200.0,95.6 L201.0,96.0 L202.0,96.0 L203.0,96.0 L204.0,96.0 L205.0,96.0 L206.0,96.0 L207.0,96.0 L208.0,96.0 L209.0,96.0 L210.0,96.0 L211.0,96.0 L212.0,96.0 L213.0,96.0 L214.0,96.0 L215.0,96.0 L216.0,96.0 L217.0,96.3 L218.0,96.7 L219.0,97.1 L220.0,97.4 L221.0,97.5 L222.0,97.7 L223.0,97.8 L224.0,97.9 L225.0,98.1 L226.0,98.2 L227.0,98.2 L228.0,98.2 L229.0,98.2 L230.0,98.2 L231.0,98.2 L232.0,98.0 L233.0,97.7 L234.0,97.5 L235.0,97.2 L236.0,97.0 L237.0,96.7 L238.0,96.5 L239.0,96.2 L240.0,96.2 L241.0,96.2 L242.0,96.3 L243.0,96.3 L244.0,96.5 L245.0,96.7 L246.0,96.8 L247.0,97.0 L248.0,97.2 L249.0,97.4 L250.0,97.0 L251.0,96.6 L252.0,96.2 L253.0,95.7 L254.0,95.3 L255.0,94.9 L256.0,94.3 L257.0,93.7 L258.0,93.1 L259.0,92.7 L260.0,92.4 L261.0,92.0 L262.0,92.0 L263.0,92.0 L264.0,92.0 L265.0,92.0 L266.0,92.0 L267.0,92.0 L268.0,92.0 L269.0,92.0 L270.0,92.3 L271.0,92.6 L272.0,92.9 L273.0,93.2 L274.0,93.5 L275.0,93.8 L276.0,94.2 L277.0,94.5 L278.0,94.9 L279.0,95.3 L280.0,95.6 L281.0,96.0 L282.0,96.0 L283.0,96.0 L284.0,96.0 L285.0,96.0 L286.0,96.0 L287.0,96.0 L288.0,96.0 L289.0,96.0 L290.0,96.0 L291.0,96.0 L292.0,96.0 L293.0,96.0 L294.0,96.0 L295.0,96.0 L296.0,96.0 L297.0,96.3 L298.0,96.7 L299.0,97.1 L300.0,97.4 L301.0,97.5 L302.0,97.7 L303.0,97.8 L304.0,97.9 L305.0,98.1 L306.0,98.2 L306.0,103.0 L305.0,102.9 L304.0,102.7 L303.0,102.6 L302.0,102.5 L301.0,102.3 L300.0,102.2 L299.0,101.9 L298.0,101.5 L297.0,101.1 L296.0,100.8 L295.0,100.8 L294.0,100.8 L293.0,100.8 L292.0,100.8 L291.0,100.8 L290.0,100.8 L289.0,100.8 L288.0,100.8 L287.0,100.8 L286.0,100.8 L285.0,100.8 L284.0,100.8 L283.0,100.8 L282.0,100.8 L281.0,100.8 L280.0,100.4 L279.0,100.1 L278.0,99.7 L277.0,99.3 L276.0,99.0 L275.0,98.6 L274.0,98.3 L273.0,98.0 L272.0,97.7 L271.0,97.4 L270.0,97.1 L269.0,96.8 L268.0,96.8 L267.0,96.8 L266.0,96.8 L265.0,96.8 L264.0,96.8 L263.0,96.8 L262.0,96.8 L261.0,96.8 L260.0,97.2 L259.0,97.5 L258.0,97.9 L257.0,98.5 L256.0,99.1 L255.0,99.7 L254.0,100.1 L253.0,100.5 L252.0,101.0 L251.0,101.4 L250.0,101.8 L249.0,102.2 L248.0,102.0 L247.0,101.8 L246.0,101.6 L245.0,101.5 L244.0,101.3 L243.0,101.1 L242.0,101.1 L241.0,101.0 L240.0,101.0 L239.0,101.0 L238.0,101.2 L237.0,101.5 L236.0,101.8 L235.0,102.0 L234.0,102.2 L233.0,102.5 L232.0,102.8 L231.0,103.0 L230.0,103.0 L229.0,103.0 L228.0,103.0 L227.0,103.0 L226.0,103.0 L225.0,102.9 L224.0,102.7 L223.0,102.6 L222.0,102.5 L221.0,102.3 L220.0,102.2 L219.0,101.9 L218.0,101.5 L217.0,101.1 L216.0,100.8 L215.0,100.8 L214.0,100.8 L213.0,100.8 L212.0,100.8 L211.0,100.8 L210.0,100.8 L209.0,100.8 L208.0,100.8 L207.0,100.8 L206.0,100.8 L205.0,100.8 L204.0,100.8 L203.0,100.8 L202.0,100.8 L201.0,100.8 L200.0,100.4 L199.0,100.1 L198.0,99.7 L197.0,99.3 L196.0,99.0 L195.0,98.6 L194.0,98.3 L193.0,98.0 L192.0,97.7 L191.0,97.4 L190.0,97.1 L189.0,96.8 L188.0,96.8 L187.0,96.8 L186.0,96.8 L185.0,96.8 L184.0,96.8 L183.0,96.8 L182.0,96.8 L181.0,96.8 L180.0,97.2 L179.0,97.5 L178.0,97.9 L177.0,98.5 L176.0,99.1 L175.0,99.7 L174.0,100.1 L173.0,100.5 L172.0,101.0 L171.0,101.4 L170.0,101.8 L169.0,102.2 L168.0,102.0 L167.0,101.8 L166.0,101.6 L165.0,101.5 L164.0,101.3 L163.0,101.1 L162.0,101.1 L161.0,101.0 L160.0,101.0 L159.0,101.0 L158.0,101.2 L157.0,101.5 L156.0,101.8 L155.0,102.0 L154.0,102.2 L153.0,102.5 L152.0,102.8 L151.0,103.0 L150.0,103.0 L149.0,103.0 L148.0,103.0 L147.0,103.0 L146.0,103.0 L145.0,102.9 L144.0,102.7 L143.0,102.6 L142.0,102.5 L141.0,102.3 L140.0,102.2 L139.0,101.9 L138.0,101.5 L137.0,101.1 L136.0,100.8 L135.0,100.8 L134.0,100.8 L133.0,100.8 L132.0,100.8 L131.0,100.8 L130.0,100.8 L129.0,100.8 L128.0,100.8 L127.0,100.8 L126.0,100.8 L125.0,100.8 L124.0,100.8 L123.0,100.8 L122.0,100.8 L121.0,100.8 L120.0,100.4 L119.0,100.1 L118.0,99.7 L117.0,99.3 L116.0,99.0 L115.0,98.6 L114.0,98.3 L113.0,98.0 L112.0,97.7 L111.0,97.4 L110.0,97.1 L109.0,96.8 L108.0,96.8 L107.0,96.8 L106.0,96.8 L105.0,96.8 L104.0,96.8 L103.0,96.8 L102.0,96.8 L101.0,96.8 L100.0,97.2 L99.0,97.5 L98.0,97.9 L97.0,98.5 L96.0,99.1 L95.0,99.7 L94.0,100.1 L93.0,100.5 L92.0,101.0 L91.0,101.4 L90.0,101.8 L89.0,102.2 L88.0,102.0 L87.0,101.8 L86.0,101.6 L85.0,101.5 L84.0,101.3 L83.0,101.1 L82.0,101.1 L81.0,101.0 L80.0,101.0 L79.0,101.0 L78.0,101.2 L77.0,101.5 L76.0,101.8 L75.0,102.0 L74.0,102.2 L73.0,102.5 L72.0,102.8 L71.0,103.0 L70.0,103.0 L69.0,103.0 L68.0,103.0 L67.0,103.0 L66.0,103.0 L65.0,102.9Z" fill="#00f"/><path d="M95.0,100.0 a3,3 0 1,0 6,0 a3,3 0 1,0 -6,0 M101.8,98.5 a3.2,3.2 0 1,0 6.4,0 a3.2,3.2 0 1,0 -6.4,0 M109.0,100.0 a3,3 0 1,0 6,0 a3,3 0 1,0 -6,0 M90.5,102.0 a2.5,2.5 0 1,0 5.0,0 a2.5,2.5 0 1,0 -5.0,0 M114.5,102.0 a2.5,2.5 0 1,0 5.0,0 a2.5,2.5 0 1,0 -5.0,0 M176.0,100.0 a3,3 0 1,0 6,0 a3,3 0 1,0 -6,0 M182.8,98.5 a3.2,3.2 0 1,0 6.4,0 a3.2,3.2 0 1,0 -6.4,0 M190.0,100.0 a3,3 0 1,0 6,0 a3,3 0 1,0 -6,0 M171.5,102.0 a2.5,2.5 0 1,0 5.0,0 a2.5,2.5 0 1,0 -5.0,0 M195.5,102.0 a2.5,2.5 0 1,0 5.0,0 a2.5,2.5 0 1,0 -5.0,0 M256.0,100.0 a3,3 0 1,0 6,0 a3,3 0 1,0 -6,0 M262.8,98.5 a3.2,3.2 0 1,0 6.4,0 a3.2,3.2 0 1,0 -6.4,0 M270.0,100.0 a3,3 0 1,0 6,0 a3,3 0 1,0 -6,0 M251.5,102.0 a2.5,2.5 0 1,0 5.0,0 a2.5,2.5 0 1,0 -5.0,0 M275.5,102.0 a2.5,2.5 0 1,0 5.0,0 a2.5,2.5 0 1,0 -5.0,0" stroke="#f00" fill="#fff"/><path d="M64.2,103.9 L64.2,106.4 a2.8,3 0 0,0 5.6,0 L69.8,103.9 M70.2,103.4 L70.2,105.9 a2.8,3 0 0,0 5.6,0 L75.8,103.4 M76.2,101.9 L76.2,104.4 a2.8,3 0 0,0 5.6,0 L81.8,101.9 M82.2,102.4 L82.2,104.9 a2.8,3 0 0,0 5.6,0 L87.8,102.4 M88.2,102.3 L88.2,104.8 a2.8,3 0 0,0 5.6,0 L93.8,102.3 M94.2,101.5 L94.2,104.0 a2.8,3 0 0,0 5.6,0 L99.8,101.5 M100.2,101.5 L100.2,104.0 a2.8,3 0 0,0 5.6,0 L105.8,101.5 M106.2,101.5 L106.2,104.0 a2.8,3 0 0,0 5.6,0 L111.8,101.5 M112.2,101.5 L112.2,104.0 a2.8,3 0 0,0 5.6,0 L117.8,101.5 M118.2,101.7 L118.2,104.2 a2.8,3 0 0,0 5.6,0 L123.8,101.7 M124.2,101.7 L124.2,104.2 a2.8,3 0 0,0 5.6,0 L129.8,101.7 M130.2,101.7 L130.2,104.2 a2.8,3 0 0,0 5.6,0 L135.8,101.7 M136.2,102.8 L136.2,105.3 a2.8,3 0 0,0 5.6,0 L141.8,102.8 M142.2,103.8 L142.2,106.3 a2.8,3 0 0,0 5.6,0 L147.8,103.8 M148.2,103.9 L148.2,106.4 a2.8,3 0 0,0 5.6,0 L153.8,103.9 M154.2,102.4 L154.2,104.9 a2.8,3 0 0,0 5.6,0 L159.8,102.4 M160.2,102.0 L160.2,104.5 a2.8,3 0 0,0 5.6,0 L165.8,102.0 M166.2,103.1 L166.2,105.6 a2.8,3 0 0,0 5.6,0 L171.8,103.1 M172.2,101.5 L172.2,104.0 a2.8,3 0 0,0 5.6,0 L177.8,101.5 M178.2,101.5 L178.2,104.0 a2.8,3 0 0,0 5.6,0 L183.8,101.5 M184.2,101.5 L184.2,104.0 a2.8,3 0 0,0 5.6,0 L189.8,101.5 M190.2,101.5 L190.2,104.0 a2.8,3 0 0,0 5.6,0 L195.8,101.5 M196.2,101.5 L196.2,104.0 a2.8,3 0 0,0 5.6,0 L201.8,101.5 M202.2,101.7 L202.2,104.2 a2.8,3 0 0,0 5.6,0 L207.8,101.7 M208.2,101.7 L208.2,104.2 a2.8,3 0 0,0 5.6,0 L213.8,101.7 M214.2,102.0 L214.2,104.5 a2.8,3 0 0,0 5.6,0 L219.8,102.0 M220.2,103.5 L220.2,106.0 a2.8,3 0 0,0 5.6,0 L225.8,103.5 M226.2,103.9 L226.2,106.4 a2.8,3 0 0,0 5.6,0 L231.8,103.9 M232.2,102.9 L232.2,105.4 a2.8,3 0 0,0 5.6,0 L237.8,102.9 M238.2,102.0 L238.2,104.5 a2.8,3 0 0,0 5.6,0 L243.8,102.0 M244.2,102.7 L244.2,105.2 a2.8,3 0 0,0 5.6,0 L249.8,102.7 M250.2,101.5 L250.2,104.0 a2.8,3 0 0,0 5.6,0 L255.8,101.5 M256.2,101.5 L256.2,104.0 a2.8,3 0 0,0 5.6,0 L261.8,101.5 M262.2,101.5 L262.2,104.0 a2.8,3 0 0,0 5.6,0 L267.8,101.5 M268.2,101.5 L268.2,104.0 a2.8,3 0 0,0 5.6,0 L273.8,101.5 M274.2,101.5 L274.2,104.0 a2.8,3 0 0,0 5.6,0 L279.8,101.5 M280.2,101.7 L280.2,104.2 a2.8,3 0 0,0 5.6,0 L285.8,101.7 M286.2,101.7 L286.2,104.2 a2.8,3 0 0,0 5.6,0 L291.8,101.7 M292.2,101.7 L292.2,104.2 a2.8,3 0 0,0 5.6,0 L297.8,101.7 M298.2,103.2 L298.2,105.7 a2.8,3 0 0,0 5.6,0 L303.8,103.2 M304.2,103.9 L304.2,106.4 a2.8,3 0 0,0 5.6,0 L309.8,103.9 M85.5,105.4 L85.5,108.9 L88.0,111.9 L90.5,108.9 L90.5,105.4 M120.5,104.2 L120.5,107.7 L123.0,110.7 L125.5,107.7 L125.5,104.2 M143.5,106.4 L143.5,109.9 L146.0,112.9 L148.5,109.9 L148.5,106.4 M165.5,105.4 L165.5,108.9 L168.0,111.9 L170.5,108.9 L170.5,105.4 M201.5,104.2 L201.5,107.7 L204.0,110.7 L206.5,107.7 L206.5,104.2 M227.5,106.4 L227.5,109.9 L230.0,112.9 L232.5,109.9 L232.5,106.4 M247.5,105.2 L247.5,108.7 L250.0,111.7 L252.5,108.7 L252.5,105.2 M283.5,104.2 L283.5,107.7 L286.0,110.7 L288.5,107.7 L288.5,104.2" stroke="#f00" fill="none"/><path d="M88.0,105.4 L88.0,108.4 M87.0,109.4 L89.0,109.4 M123.0,104.2 L123.0,107.2 M122.0,108.2 L124.0,108.2 M146.0,106.4 L146.0,109.4 M145.0,110.4 L147.0,110.4 M168.0,105.4 L168.0,108.4 M167.0,109.4 L169.0,109.4 M204.0,104.2 L204.0,107.2 M203.0,108.2 L205.0,108.2 M230.0,106.4 L230.0,109.4 M229.0,110.4 L231.0,110.4 M250.0,105.2 L250.0,108.2 M249.0,109.2 L251.0,109.2 M286.0,104.2 L286.0,107.2 M285.0,108.2 L287.0,108.2" stroke="#00f" fill="none"/></g>
<rect x="4" y="4" width="614" height="1" fill="#000"/>
<rect x="4" y="859" width="614" height="1" fill="#000"/>
<rect x="4" y="4" width="1" height="856" fill="#000"/>
<rect x="617" y="4" width="1" height="856" fill="#000"/>
<rect x="535" y="4" width="1" height="85" fill="#000"/>
<rect x="4" y="88" width="614" height="1" fill="#000"/>
<rect x="385" y="88" width="1" height="772" fill="#000"/>
<rect x="385" y="168" width="233" height="1" fill="#000"/>
<rect x="3" y="104" width="381" height="1" fill="#f00"/>
<rect x="306" y="89" width="1" height="770" fill="#f00"/>
<rect x="3" y="840" width="381" height="1" fill="#0f0"/>
<path d="M376.5,99.5 L373.5,102.5 L377.5,102.5" stroke="#f00" fill="none" shape-rendering="crispEdges"/>
<path d="M10.5,835 L10.5,838 M9,838.5 L12,838.5" stroke="#0f0" fill="none" shape-rendering="crispEdges"/>
<rect x="311" y="849" width="1" height="2" fill="#f00"/><rect x="311" y="854" width="1" height="2" fill="#f00"/>
<path fill="#000" d="M9,37h1v20h-1zM11,37h1v20h-1zM13,37h4v20h-4zM19,37h3v20h-3zM24,37h2v20h-2zM29,37h3v20h-3zM33,37h2v20h-2zM36,37h1v20h-1zM40,37h3v20h-3zM46,37h2v20h-2zM50,37h1v20h-1zM52,37h1v20h-1zM54,37h3v20h-3zM58,37h1v20h-1zM61,37h2v20h-2zM66,37h2v20h-2zM70,37h2v20h-2zM73,37h1v20h-1zM75,37h3v20h-3zM81,37h2v20h-2zM86,37h2v20h-2zM89,37h1v20h-1zM91,37h3v20h-3zM95,37h3v20h-3zM101,37h2v20h-2zM106,37h3v20h-3zM112,37h3v20h-3zM116,37h1v20h-1zM119,37h1v20h-1zM122,37h4v20h-4zM127,37h2v20h-2zM132,37h3v20h-3zM138,37h1v20h-1zM140,37h1v20h-1zM142,37h1v20h-1zM144,37h1v20h-1zM146,37h4v20h-4z"/>
<path fill="#000" d="M15.00 5.00h2.00v1.00h-2.00zM11.00 6.00h2.00v1.00h-2.00zM15.00 6.00h2.00v1.00h-2.00zM11.00 7.00h2.00v1.00h-2.00zM15.00 7.00h2.00v1.00h-2.00zM11.00 8.00h2.00v1.00h-2.00zM15.00 8.00h2.00v1.00h-2.00zM10.00 9.00h13.00v1.00h-13.00zM10.00 10.00h2.00v1.00h-2.00zM15.00 10.00h2.00v1.00h-2.00zM9.00 11.00h2.00v1.00h-2.00zM15.00 11.00h2.00v1.00h-2.00zM8.00 12.00h2.00v1.00h-2.00zM15.00 12.00h2.00v1.00h-2.00zM15.00 13.00h2.00v1.00h-2.00zM10.00 14.00h12.00v1.00h-12.00zM15.00 15.00h2.00v1.00h-2.00zM15.00 16.00h2.00v1.00h-2.00zM15.00 17.00h2.00v1.00h-2.00zM15.00 18.00h2.00v1.00h-2.00zM8.00 19.00h16.00v1.00h-16.00zM30.00 5.00h2.00v1.00h-2.00zM31.00 6.00h2.00v1.00h-2.00zM25.00 7.00h14.00v1.00h-14.00zM28.00 9.00h2.00v1.00h-2.00zM34.00 9.00h2.00v1.00h-2.00zM29.00 10.00h2.00v1.00h-2.00zM34.00 10.00h2.00v1.00h-2.00zM29.00 11.00h2.00v1.00h-2.00zM33.00 11.00h2.00v1.00h-2.00zM26.00 12.00h14.00v1.00h-14.00zM26.00 13.00h2.00v1.00h-2.00zM26.00 14.00h2.00v1.00h-2.00zM26.00 15.00h2.00v1.00h-2.00zM26.00 16.00h2.00v1.00h-2.00zM26.00 17.00h2.00v1.00h-2.00zM25.00 18.00h2.00v1.00h-2.00zM25.00 19.00h2.00v1.00h-2.00zM24.00 20.00h2.00v1.00h-2.00zM44.00 5.00h2.00v1.00h-2.00zM47.00 5.00h2.00v1.00h-2.00zM44.00 6.00h2.00v1.00h-2.00zM47.00 6.00h2.00v1.00h-2.00zM44.00 7.00h2.00v1.00h-2.00zM47.00 7.00h2.00v1.00h-2.00zM43.00 8.00h2.00v1.00h-2.00zM47.00 8.00h9.00v1.00h-9.00zM43.00 9.00h2.00v1.00h-2.00zM46.00 9.00h2.00v1.00h-2.00zM48.00 9.00h2.00v1.00h-2.00zM42.00 10.00h3.00v1.00h-3.00zM46.00 10.00h2.00v1.00h-2.00zM48.00 10.00h2.00v1.00h-2.00zM42.00 11.00h3.00v1.00h-3.00zM45.00 11.00h2.00v1.00h-2.00zM48.00 11.00h2.00v1.00h-2.00zM41.00 12.00h2.00v1.00h-2.00zM43.00 12.00h2.00v1.00h-2.00zM48.00 12.00h6.00v1.00h-6.00zM40.00 13.00h2.00v1.00h-2.00zM43.00 13.00h2.00v1.00h-2.00zM48.00 13.00h2.00v1.00h-2.00zM43.00 14.00h2.00v1.00h-2.00zM48.00 14.00h2.00v1.00h-2.00zM43.00 15.00h2.00v1.00h-2.00zM48.00 15.00h2.00v1.00h-2.00zM43.00 16.00h2.00v1.00h-2.00zM48.00 16.00h7.00v1.00h-7.00zM43.00 17.00h2.00v1.00h-2.00zM48.00 17.00h2.00v1.00h-2.00zM43.00 18.00h2.00v1.00h-2.00zM48.00 18.00h2.00v1.00h-2.00zM43.00 19.00h2.00v1.00h-2.00zM48.00 19.00h2.00v1.00h-2.00zM43.00 20.00h2.00v1.00h-2.00zM48.00 20.00h2.00v1.00h-2.00zM61.00 5.00h2.00v1.00h-2.00zM65.00 5.00h2.00v1.00h-2.00zM61.00 6.00h2.00v1.00h-2.00zM65.00 6.00h2.00v1.00h-2.00zM61.00 7.00h2.00v1.00h-2.00zM65.00 7.00h2.00v1.00h-2.00zM61.00 8.00h2.00v1.00h-2.00zM65.00 8.00h2.00v1.00h-2.00zM57.00 9.00h2.00v1.00h-2.00zM61.00 9.00h2.00v1.00h-2.00zM65.00 9.00h2.00v1.00h-2.00zM69.00 9.00h2.00v1.00h-2.00zM58.00 10.00h2.00v1.00h-2.00zM61.00 10.00h2.00v1.00h-2.00zM65.00 10.00h2.00v1.00h-2.00zM69.00 10.00h2.00v1.00h-2.00zM58.00 11.00h2.00v1.00h-2.00zM61.00 11.00h2.00v1.00h-2.00zM65.00 11.00h2.00v1.00h-2.00zM68.00 11.00h2.00v1.00h-2.00zM59.00 12.00h2.00v1.00h-2.00zM61.00 12.00h2.00v1.00h-2.00zM65.00 12.00h2.00v1.00h-2.00zM68.00 12.00h2.00v1.00h-2.00zM59.00 13.00h2.00v1.00h-2.00zM61.00 13.00h2.00v1.00h-2.00zM65.00 13.00h2.00v1.00h-2.00zM67.00 13.00h2.00v1.00h-2.00zM59.00 14.00h2.00v1.00h-2.00zM61.00 14.00h2.00v1.00h-2.00zM65.00 14.00h3.00v1.00h-3.00zM61.00 15.00h2.00v1.00h-2.00zM65.00 15.00h2.00v1.00h-2.00zM61.00 16.00h2.00v1.00h-2.00zM65.00 16.00h2.00v1.00h-2.00zM61.00 17.00h2.00v1.00h-2.00zM65.00 17.00h2.00v1.00h-2.00zM61.00 18.00h2.00v1.00h-2.00zM65.00 18.00h2.00v1.00h-2.00zM56.00 19.00h16.00v1.00h-16.00zM73.00 6.00h14.00v1.00h-14.00zM73.00 7.00h2.00v1.00h-2.00zM78.00 7.00h2.00v1.00h-2.00zM85.00 7.00h2.00v1.00h-2.00zM73.00 8.00h2.00v1.00h-2.00zM78.00 8.00h2.00v1.00h-2.00zM85.00 8.00h2.00v1.00h-2.00zM73.00 9.00h2.00v1.00h-2.00zM77.00 9.00h7.00v1.00h-7.00zM85.00 9.00h2.00v1.00h-2.00zM73.00 10.00h2.00v1.00h-2.00zM76.00 10.00h3.00v1.00h-3.00zM81.00 10.00h2.00v1.00h-2.00zM85.00 10.00h2.00v1.00h-2.00zM73.00 11.00h2.00v1.00h-2.00zM75.00 11.00h2.00v1.00h-2.00zM78.00 11.00h2.00v1.00h-2.00zM80.00 11.00h2.00v1.00h-2.00zM85.00 11.00h2.00v1.00h-2.00zM73.00 12.00h2.00v1.00h-2.00zM79.00 12.00h2.00v1.00h-2.00zM85.00 12.00h2.00v1.00h-2.00zM73.00 13.00h2.00v1.00h-2.00zM77.00 13.00h3.00v1.00h-3.00zM80.00 13.00h3.00v1.00h-3.00zM85.00 13.00h2.00v1.00h-2.00zM73.00 14.00h5.00v1.00h-5.00zM82.00 14.00h5.00v1.00h-5.00zM73.00 15.00h2.00v1.00h-2.00zM78.00 15.00h3.00v1.00h-3.00zM85.00 15.00h2.00v1.00h-2.00zM73.00 16.00h2.00v1.00h-2.00zM80.00 16.00h2.00v1.00h-2.00zM85.00 16.00h2.00v1.00h-2.00zM73.00 17.00h2.00v1.00h-2.00zM77.00 17.00h3.00v1.00h-3.00zM85.00 17.00h2.00v1.00h-2.00zM73.00 18.00h2.00v1.00h-2.00zM79.00 18.00h3.00v1.00h-3.00zM85.00 18.00h2.00v1.00h-2.00zM73.00 19.00h14.00v1.00h-14.00zM73.00 20.00h2.00v1.00h-2.00zM85.00 20.00h2.00v1.00h-2.00zM40.00 25.00h1.00v1.00h-1.00zM41.00 26.00h1.00v1.00h-1.00zM43.00 26.00h5.00v1.00h-5.00zM39.00 27.00h3.00v1.00h-3.00zM43.00 27.00h1.00v1.00h-1.00zM41.00 28.00h1.00v1.00h-1.00zM43.00 28.00h1.00v1.00h-1.00zM41.00 29.00h1.00v1.00h-1.00zM43.00 29.00h1.00v1.00h-1.00zM41.00 30.00h1.00v1.00h-1.00zM43.00 30.00h1.00v1.00h-1.00zM39.00 31.00h2.00v1.00h-2.00zM43.00 31.00h1.00v1.00h-1.00zM40.00 32.00h1.00v1.00h-1.00zM43.00 32.00h1.00v1.00h-1.00zM40.00 33.00h1.00v1.00h-1.00zM43.00 33.00h5.00v1.00h-5.00zM54.00 25.00h1.00v1.00h-1.00zM50.00 26.00h9.00v1.00h-9.00zM52.00 27.00h5.00v1.00h-5.00zM52.00 28.00h1.00v1.00h-1.00zM56.00 28.00h1.00v1.00h-1.00zM52.00 29.00h1.00v1.00h-1.00zM56.00 29.00h1.00v1.00h-1.00zM52.00 30.00h5.00v1.00h-5.00zM52.00 31.00h1.00v1.00h-1.00zM54.00 31.00h1.00v1.00h-1.00zM56.00 31.00h1.00v1.00h-1.00zM51.00 32.00h1.00v1.00h-1.00zM54.00 32.00h1.00v1.00h-1.00zM57.00 32.00h1.00v1.00h-1.00zM50.00 33.00h1.00v1.00h-1.00zM53.00 33.00h2.00v1.00h-2.00zM58.00 33.00h1.00v1.00h-1.00zM69.00 25.00h1.00v1.00h-1.00zM73.00 25.00h1.00v1.00h-1.00zM67.00 26.00h1.00v1.00h-1.00zM69.00 26.00h7.00v1.00h-7.00zM68.00 27.00h2.00v1.00h-2.00zM73.00 27.00h1.00v1.00h-1.00zM67.00 28.00h3.00v1.00h-3.00zM71.00 28.00h4.00v1.00h-4.00zM69.00 29.00h1.00v1.00h-1.00zM72.00 29.00h1.00v1.00h-1.00zM67.00 30.00h9.00v1.00h-9.00zM69.00 31.00h6.00v1.00h-6.00zM67.00 32.00h3.00v1.00h-3.00zM73.00 32.00h1.00v1.00h-1.00zM69.00 33.00h2.00v1.00h-2.00zM73.00 33.00h3.00v1.00h-3.00zM78.00 25.00h1.00v1.00h-1.00zM82.00 25.00h1.00v1.00h-1.00zM78.00 26.00h1.00v1.00h-1.00zM82.00 26.00h4.00v1.00h-4.00zM78.00 27.00h4.00v1.00h-4.00zM83.00 27.00h1.00v1.00h-1.00zM77.00 28.00h1.00v1.00h-1.00zM79.00 28.00h1.00v1.00h-1.00zM81.00 28.00h5.00v1.00h-5.00zM79.00 29.00h1.00v1.00h-1.00zM81.00 29.00h1.00v1.00h-1.00zM83.00 29.00h1.00v1.00h-1.00zM85.00 29.00h1.00v1.00h-1.00zM79.00 30.00h1.00v1.00h-1.00zM81.00 30.00h1.00v1.00h-1.00zM83.00 30.00h1.00v1.00h-1.00zM85.00 30.00h1.00v1.00h-1.00zM79.00 31.00h3.00v1.00h-3.00zM83.00 31.00h1.00v1.00h-1.00zM85.00 31.00h1.00v1.00h-1.00zM79.00 32.00h1.00v1.00h-1.00zM81.00 32.00h1.00v1.00h-1.00zM83.00 32.00h3.00v1.00h-3.00zM83.00 33.00h1.00v1.00h-1.00zM88.00 26.00h7.00v1.00h-7.00zM91.00 27.00h1.00v1.00h-1.00zM91.00 28.00h1.00v1.00h-1.00zM91.00 29.00h1.00v1.00h-1.00zM91.00 30.00h1.00v1.00h-1.00zM91.00 31.00h1.00v1.00h-1.00zM87.00 32.00h9.00v1.00h-9.00zM98.00 25.00h1.00v1.00h-1.00zM100.00 25.00h1.00v1.00h-1.00zM98.00 26.00h1.00v1.00h-1.00zM100.00 26.00h1.00v1.00h-1.00zM98.00 27.00h7.00v1.00h-7.00zM97.00 28.00h2.00v1.00h-2.00zM101.00 28.00h1.00v1.00h-1.00zM96.00 29.00h1.00v1.00h-1.00zM98.00 29.00h1.00v1.00h-1.00zM101.00 29.00h3.00v1.00h-3.00zM98.00 30.00h1.00v1.00h-1.00zM101.00 30.00h1.00v1.00h-1.00zM98.00 31.00h1.00v1.00h-1.00zM101.00 31.00h4.00v1.00h-4.00zM98.00 32.00h1.00v1.00h-1.00zM101.00 32.00h1.00v1.00h-1.00zM98.00 33.00h1.00v1.00h-1.00zM101.00 33.00h1.00v1.00h-1.00zM110.00 25.00h1.00v1.00h-1.00zM106.00 26.00h9.00v1.00h-9.00zM106.00 27.00h1.00v1.00h-1.00zM108.00 27.00h5.00v1.00h-5.00zM114.00 27.00h1.00v1.00h-1.00zM109.00 28.00h1.00v1.00h-1.00zM108.00 29.00h1.00v1.00h-1.00zM112.00 29.00h1.00v1.00h-1.00zM108.00 30.00h5.00v1.00h-5.00zM108.00 31.00h5.00v1.00h-5.00zM110.00 32.00h1.00v1.00h-1.00zM106.00 33.00h9.00v1.00h-9.00zM8.00 63.00h1.00v1.00h-1.00zM12.00 63.00h1.00v1.00h-1.00zM6.00 64.00h9.00v1.00h-9.00zM8.00 65.00h1.00v1.00h-1.00zM12.00 65.00h1.00v1.00h-1.00zM8.00 66.00h1.00v1.00h-1.00zM11.00 66.00h1.00v1.00h-1.00zM13.00 66.00h1.00v1.00h-1.00zM8.00 67.00h1.00v1.00h-1.00zM11.00 67.00h2.00v1.00h-2.00zM7.00 68.00h2.00v1.00h-2.00zM11.00 68.00h2.00v1.00h-2.00zM6.00 69.00h1.00v1.00h-1.00zM8.00 69.00h4.00v1.00h-4.00zM14.00 69.00h1.00v1.00h-1.00zM8.00 70.00h1.00v1.00h-1.00zM11.00 70.00h1.00v1.00h-1.00zM14.00 70.00h1.00v1.00h-1.00zM8.00 71.00h1.00v1.00h-1.00zM12.00 71.00h3.00v1.00h-3.00zM19.00 63.00h1.00v1.00h-1.00zM23.00 63.00h2.00v1.00h-2.00zM18.00 64.00h2.00v1.00h-2.00zM21.00 64.00h3.00v1.00h-3.00zM18.00 65.00h8.00v1.00h-8.00zM18.00 66.00h1.00v1.00h-1.00zM21.00 66.00h2.00v1.00h-2.00zM24.00 66.00h1.00v1.00h-1.00zM18.00 67.00h1.00v1.00h-1.00zM21.00 67.00h1.00v1.00h-1.00zM23.00 67.00h2.00v1.00h-2.00zM18.00 68.00h2.00v1.00h-2.00zM21.00 68.00h1.00v1.00h-1.00zM23.00 68.00h2.00v1.00h-2.00zM18.00 69.00h2.00v1.00h-2.00zM21.00 69.00h1.00v1.00h-1.00zM23.00 69.00h1.00v1.00h-1.00zM17.00 70.00h1.00v1.00h-1.00zM19.00 70.00h1.00v1.00h-1.00zM21.00 70.00h1.00v1.00h-1.00zM23.00 70.00h2.00v1.00h-2.00zM17.00 71.00h1.00v1.00h-1.00zM19.00 71.00h2.00v1.00h-2.00zM22.00 71.00h1.00v1.00h-1.00zM25.00 71.00h1.00v1.00h-1.00zM9.00 76.00h1.00v1.00h-1.00zM8.00 77.00h5.00v1.00h-5.00zM7.00 78.00h7.00v1.00h-7.00zM6.00 79.00h1.00v1.00h-1.00zM8.00 79.00h1.00v1.00h-1.00zM10.00 79.00h1.00v1.00h-1.00zM13.00 79.00h1.00v1.00h-1.00zM8.00 80.00h1.00v1.00h-1.00zM10.00 80.00h1.00v1.00h-1.00zM13.00 80.00h1.00v1.00h-1.00zM8.00 81.00h6.00v1.00h-6.00zM8.00 82.00h1.00v1.00h-1.00zM14.00 82.00h1.00v1.00h-1.00zM8.00 83.00h1.00v1.00h-1.00zM14.00 83.00h1.00v1.00h-1.00zM8.00 84.00h7.00v1.00h-7.00zM19.00 76.00h1.00v1.00h-1.00zM22.00 76.00h1.00v1.00h-1.00zM19.00 77.00h1.00v1.00h-1.00zM23.00 77.00h1.00v1.00h-1.00zM19.00 78.00h7.00v1.00h-7.00zM18.00 79.00h2.00v1.00h-2.00zM17.00 80.00h1.00v1.00h-1.00zM19.00 80.00h1.00v1.00h-1.00zM21.00 80.00h1.00v1.00h-1.00zM24.00 80.00h1.00v1.00h-1.00zM19.00 81.00h1.00v1.00h-1.00zM22.00 81.00h1.00v1.00h-1.00zM24.00 81.00h1.00v1.00h-1.00zM19.00 82.00h1.00v1.00h-1.00zM22.00 82.00h2.00v1.00h-2.00zM19.00 83.00h1.00v1.00h-1.00zM23.00 83.00h1.00v1.00h-1.00zM19.00 84.00h7.00v1.00h-7.00zM538.00 6.00h1.00v1.00h-1.00zM543.00 6.00h1.00v1.00h-1.00zM538.00 7.00h1.00v1.00h-1.00zM543.00 7.00h1.00v1.00h-1.00zM537.00 8.00h4.00v1.00h-4.00zM543.00 8.00h1.00v1.00h-1.00zM537.00 9.00h4.00v1.00h-4.00zM542.00 9.00h4.00v1.00h-4.00zM539.00 10.00h1.00v1.00h-1.00zM543.00 10.00h1.00v1.00h-1.00zM537.00 11.00h4.00v1.00h-4.00zM543.00 11.00h1.00v1.00h-1.00zM539.00 12.00h2.00v1.00h-2.00zM543.00 12.00h1.00v1.00h-1.00zM539.00 13.00h1.00v1.00h-1.00zM543.00 13.00h1.00v1.00h-1.00zM539.00 14.00h1.00v1.00h-1.00zM543.00 14.00h1.00v1.00h-1.00zM549.00 6.00h1.00v1.00h-1.00zM551.00 6.00h1.00v1.00h-1.00zM553.00 6.00h1.00v1.00h-1.00zM555.00 6.00h1.00v1.00h-1.00zM550.00 7.00h3.00v1.00h-3.00zM555.00 7.00h1.00v1.00h-1.00zM549.00 8.00h9.00v1.00h-9.00zM550.00 9.00h3.00v1.00h-3.00zM555.00 9.00h2.00v1.00h-2.00zM549.00 10.00h1.00v1.00h-1.00zM551.00 10.00h1.00v1.00h-1.00zM553.00 10.00h1.00v1.00h-1.00zM555.00 10.00h2.00v1.00h-2.00zM549.00 11.00h5.00v1.00h-5.00zM555.00 11.00h2.00v1.00h-2.00zM550.00 12.00h3.00v1.00h-3.00zM555.00 12.00h2.00v1.00h-2.00zM551.00 13.00h1.00v1.00h-1.00zM555.00 13.00h2.00v1.00h-2.00zM549.00 14.00h6.00v1.00h-6.00zM557.00 14.00h1.00v1.00h-1.00zM539.00 19.00h1.00v1.00h-1.00zM542.00 19.00h4.00v1.00h-4.00zM537.00 20.00h4.00v1.00h-4.00zM543.00 20.00h1.00v1.00h-1.00zM537.00 21.00h4.00v1.00h-4.00zM542.00 21.00h4.00v1.00h-4.00zM537.00 22.00h1.00v1.00h-1.00zM540.00 22.00h1.00v1.00h-1.00zM542.00 22.00h2.00v1.00h-2.00zM545.00 22.00h1.00v1.00h-1.00zM537.00 23.00h1.00v1.00h-1.00zM539.00 23.00h1.00v1.00h-1.00zM542.00 23.00h2.00v1.00h-2.00zM545.00 23.00h1.00v1.00h-1.00zM537.00 24.00h4.00v1.00h-4.00zM542.00 24.00h2.00v1.00h-2.00zM545.00 24.00h1.00v1.00h-1.00zM537.00 25.00h4.00v1.00h-4.00zM542.00 25.00h2.00v1.00h-2.00zM545.00 25.00h1.00v1.00h-1.00zM537.00 26.00h1.00v1.00h-1.00zM539.00 26.00h1.00v1.00h-1.00zM543.00 26.00h2.00v1.00h-2.00zM537.00 27.00h3.00v1.00h-3.00zM541.00 27.00h2.00v1.00h-2.00zM545.00 27.00h1.00v1.00h-1.00zM552.00 19.00h1.00v1.00h-1.00zM551.00 20.00h5.00v1.00h-5.00zM550.00 21.00h7.00v1.00h-7.00zM549.00 22.00h1.00v1.00h-1.00zM551.00 22.00h1.00v1.00h-1.00zM553.00 22.00h1.00v1.00h-1.00zM556.00 22.00h1.00v1.00h-1.00zM551.00 23.00h1.00v1.00h-1.00zM553.00 23.00h1.00v1.00h-1.00zM556.00 23.00h1.00v1.00h-1.00zM551.00 24.00h6.00v1.00h-6.00zM551.00 25.00h1.00v1.00h-1.00zM557.00 25.00h1.00v1.00h-1.00zM551.00 26.00h1.00v1.00h-1.00zM557.00 26.00h1.00v1.00h-1.00zM551.00 27.00h7.00v1.00h-7.00zM541.00 32.00h1.00v1.00h-1.00zM537.00 33.00h9.00v1.00h-9.00zM539.00 34.00h5.00v1.00h-5.00zM539.00 35.00h1.00v1.00h-1.00zM543.00 35.00h1.00v1.00h-1.00zM538.00 36.00h7.00v1.00h-7.00zM538.00 37.00h1.00v1.00h-1.00zM544.00 37.00h1.00v1.00h-1.00zM538.00 38.00h7.00v1.00h-7.00zM538.00 39.00h7.00v1.00h-7.00zM538.00 40.00h1.00v1.00h-1.00zM543.00 40.00h2.00v1.00h-2.00zM553.00 32.00h1.00v1.00h-1.00zM550.00 33.00h8.00v1.00h-8.00zM550.00 34.00h7.00v1.00h-7.00zM550.00 35.00h1.00v1.00h-1.00zM552.00 35.00h1.00v1.00h-1.00zM555.00 35.00h1.00v1.00h-1.00zM550.00 36.00h1.00v1.00h-1.00zM552.00 36.00h4.00v1.00h-4.00zM550.00 37.00h1.00v1.00h-1.00zM550.00 38.00h6.00v1.00h-6.00zM549.00 39.00h1.00v1.00h-1.00zM553.00 39.00h2.00v1.00h-2.00zM549.00 40.00h1.00v1.00h-1.00zM551.00 40.00h2.00v1.00h-2.00zM555.00 40.00h2.00v1.00h-2.00zM541.00 45.00h1.00v1.00h-1.00zM537.00 46.00h9.00v1.00h-9.00zM537.00 47.00h9.00v1.00h-9.00zM539.00 48.00h1.00v1.00h-1.00zM543.00 48.00h1.00v1.00h-1.00zM539.00 49.00h5.00v1.00h-5.00zM539.00 50.00h1.00v1.00h-1.00zM541.00 50.00h1.00v1.00h-1.00zM543.00 50.00h1.00v1.00h-1.00zM539.00 51.00h5.00v1.00h-5.00zM545.00 51.00h1.00v1.00h-1.00zM539.00 52.00h1.00v1.00h-1.00zM542.00 52.00h1.00v1.00h-1.00zM545.00 52.00h1.00v1.00h-1.00zM537.00 53.00h3.00v1.00h-3.00zM543.00 53.00h3.00v1.00h-3.00zM553.00 45.00h1.00v1.00h-1.00zM550.00 46.00h8.00v1.00h-8.00zM550.00 47.00h7.00v1.00h-7.00zM550.00 48.00h1.00v1.00h-1.00zM552.00 48.00h1.00v1.00h-1.00zM555.00 48.00h1.00v1.00h-1.00zM550.00 49.00h1.00v1.00h-1.00zM552.00 49.00h4.00v1.00h-4.00zM550.00 50.00h1.00v1.00h-1.00zM550.00 51.00h6.00v1.00h-6.00zM549.00 52.00h1.00v1.00h-1.00zM553.00 52.00h2.00v1.00h-2.00zM549.00 53.00h1.00v1.00h-1.00zM551.00 53.00h2.00v1.00h-2.00zM555.00 53.00h2.00v1.00h-2.00zM538.00 58.00h1.00v1.00h-1.00zM542.00 58.00h1.00v1.00h-1.00zM538.00 59.00h1.00v1.00h-1.00zM542.00 59.00h1.00v1.00h-1.00zM538.00 60.00h1.00v1.00h-1.00zM542.00 60.00h1.00v1.00h-1.00zM544.00 60.00h1.00v1.00h-1.00zM538.00 61.00h3.00v1.00h-3.00zM542.00 61.00h2.00v1.00h-2.00zM538.00 62.00h1.00v1.00h-1.00zM542.00 62.00h1.00v1.00h-1.00zM538.00 63.00h1.00v1.00h-1.00zM542.00 63.00h1.00v1.00h-1.00zM538.00 64.00h1.00v1.00h-1.00zM540.00 64.00h1.00v1.00h-1.00zM542.00 64.00h1.00v1.00h-1.00zM545.00 64.00h1.00v1.00h-1.00zM538.00 65.00h2.00v1.00h-2.00zM542.00 65.00h1.00v1.00h-1.00zM545.00 65.00h1.00v1.00h-1.00zM538.00 66.00h1.00v1.00h-1.00zM543.00 66.00h3.00v1.00h-3.00zM551.00 58.00h5.00v1.00h-5.00zM557.00 58.00h1.00v1.00h-1.00zM551.00 59.00h1.00v1.00h-1.00zM553.00 59.00h1.00v1.00h-1.00zM557.00 59.00h1.00v1.00h-1.00zM550.00 60.00h6.00v1.00h-6.00zM557.00 60.00h1.00v1.00h-1.00zM550.00 61.00h3.00v1.00h-3.00zM555.00 61.00h1.00v1.00h-1.00zM557.00 61.00h1.00v1.00h-1.00zM549.00 62.00h1.00v1.00h-1.00zM551.00 62.00h2.00v1.00h-2.00zM554.00 62.00h2.00v1.00h-2.00zM557.00 62.00h1.00v1.00h-1.00zM551.00 63.00h1.00v1.00h-1.00zM553.00 63.00h3.00v1.00h-3.00zM557.00 63.00h1.00v1.00h-1.00zM551.00 64.00h1.00v1.00h-1.00zM553.00 64.00h3.00v1.00h-3.00zM557.00 64.00h1.00v1.00h-1.00zM551.00 65.00h2.00v1.00h-2.00zM557.00 65.00h1.00v1.00h-1.00zM551.00 66.00h1.00v1.00h-1.00zM556.00 66.00h2.00v1.00h-2.00zM388.00 91.00h1.00v1.00h-1.00zM391.00 91.00h1.00v1.00h-1.00zM388.00 92.00h7.00v1.00h-7.00zM388.00 93.00h1.00v1.00h-1.00zM390.00 93.00h4.00v1.00h-4.00zM388.00 94.00h1.00v1.00h-1.00zM390.00 94.00h1.00v1.00h-1.00zM393.00 94.00h1.00v1.00h-1.00zM387.00 95.00h8.00v1.00h-8.00zM388.00 96.00h1.00v1.00h-1.00zM390.00 96.00h4.00v1.00h-4.00zM388.00 97.00h1.00v1.00h-1.00zM392.00 97.00h1.00v1.00h-1.00zM388.00 98.00h1.00v1.00h-1.00zM391.00 98.00h2.00v1.00h-2.00zM402.00 91.00h1.00v1.00h-1.00zM402.00 92.00h1.00v1.00h-1.00zM400.00 93.00h1.00v1.00h-1.00zM402.00 93.00h1.00v1.00h-1.00zM400.00 94.00h1.00v1.00h-1.00zM402.00 94.00h3.00v1.00h-3.00zM400.00 95.00h1.00v1.00h-1.00zM402.00 95.00h1.00v1.00h-1.00zM400.00 96.00h1.00v1.00h-1.00zM402.00 96.00h1.00v1.00h-1.00zM400.00 97.00h1.00v1.00h-1.00zM402.00 97.00h1.00v1.00h-1.00zM398.00 98.00h8.00v1.00h-8.00zM407.00 91.00h1.00v1.00h-1.00zM410.00 91.00h5.00v1.00h-5.00zM407.00 92.00h2.00v1.00h-2.00zM410.00 92.00h5.00v1.00h-5.00zM407.00 93.00h2.00v1.00h-2.00zM410.00 93.00h2.00v1.00h-2.00zM414.00 93.00h1.00v1.00h-1.00zM407.00 94.00h2.00v1.00h-2.00zM410.00 94.00h2.00v1.00h-2.00zM413.00 94.00h2.00v1.00h-2.00zM407.00 95.00h2.00v1.00h-2.00zM410.00 95.00h2.00v1.00h-2.00zM413.00 95.00h2.00v1.00h-2.00zM407.00 96.00h2.00v1.00h-2.00zM410.00 96.00h2.00v1.00h-2.00zM413.00 96.00h2.00v1.00h-2.00zM407.00 97.00h2.00v1.00h-2.00zM410.00 97.00h1.00v1.00h-1.00zM412.00 97.00h2.00v1.00h-2.00zM407.00 98.00h1.00v1.00h-1.00zM410.00 98.00h2.00v1.00h-2.00zM414.00 98.00h1.00v1.00h-1.00zM421.00 91.00h1.00v1.00h-1.00zM418.00 92.00h7.00v1.00h-7.00zM418.00 93.00h6.00v1.00h-6.00zM418.00 94.00h1.00v1.00h-1.00zM421.00 94.00h2.00v1.00h-2.00zM418.00 95.00h7.00v1.00h-7.00zM418.00 96.00h1.00v1.00h-1.00zM421.00 96.00h1.00v1.00h-1.00zM423.00 96.00h1.00v1.00h-1.00zM417.00 97.00h2.00v1.00h-2.00zM421.00 97.00h1.00v1.00h-1.00zM417.00 98.00h1.00v1.00h-1.00zM420.00 98.00h2.00v1.00h-2.00zM461.00 104.00h2.00v1.00h-2.00zM464.00 104.00h3.00v1.00h-3.00zM461.00 105.00h2.00v1.00h-2.00zM464.00 105.00h2.00v1.00h-2.00zM466.00 105.00h2.00v1.00h-2.00zM461.00 106.00h2.00v1.00h-2.00zM464.00 106.00h5.00v1.00h-5.00zM460.00 107.00h6.00v1.00h-6.00zM459.00 108.00h2.00v1.00h-2.00zM461.00 108.00h2.00v1.00h-2.00zM464.00 108.00h2.00v1.00h-2.00zM461.00 109.00h2.00v1.00h-2.00zM464.00 109.00h2.00v1.00h-2.00zM461.00 110.00h2.00v1.00h-2.00zM465.00 110.00h2.00v1.00h-2.00zM467.00 110.00h2.00v1.00h-2.00zM461.00 111.00h2.00v1.00h-2.00zM465.00 111.00h2.00v1.00h-2.00zM467.00 111.00h2.00v1.00h-2.00zM461.00 112.00h2.00v1.00h-2.00zM466.00 112.00h3.00v1.00h-3.00zM474.00 104.00h5.00v1.00h-5.00zM470.00 105.00h5.00v1.00h-5.00zM477.00 105.00h2.00v1.00h-2.00zM472.00 106.00h2.00v1.00h-2.00zM475.00 106.00h2.00v1.00h-2.00zM477.00 106.00h2.00v1.00h-2.00zM471.00 107.00h4.00v1.00h-4.00zM475.00 107.00h2.00v1.00h-2.00zM477.00 107.00h2.00v1.00h-2.00zM470.00 108.00h3.00v1.00h-3.00zM473.00 108.00h7.00v1.00h-7.00zM471.00 109.00h2.00v1.00h-2.00zM473.00 109.00h2.00v1.00h-2.00zM478.00 109.00h2.00v1.00h-2.00zM471.00 110.00h7.00v1.00h-7.00zM478.00 110.00h2.00v1.00h-2.00zM471.00 111.00h2.00v1.00h-2.00zM473.00 111.00h2.00v1.00h-2.00zM476.00 111.00h2.00v1.00h-2.00zM478.00 111.00h2.00v1.00h-2.00zM476.00 112.00h3.00v1.00h-3.00zM488.00 104.00h2.00v1.00h-2.00zM491.00 104.00h3.00v1.00h-3.00zM488.00 105.00h8.00v1.00h-8.00zM486.00 106.00h4.00v1.00h-4.00zM491.00 106.00h3.00v1.00h-3.00zM488.00 107.00h2.00v1.00h-2.00zM490.00 107.00h6.00v1.00h-6.00zM488.00 108.00h2.00v1.00h-2.00zM490.00 108.00h2.00v1.00h-2.00zM492.00 108.00h2.00v1.00h-2.00zM494.00 108.00h2.00v1.00h-2.00zM487.00 109.00h3.00v1.00h-3.00zM490.00 109.00h2.00v1.00h-2.00zM492.00 109.00h2.00v1.00h-2.00zM494.00 109.00h2.00v1.00h-2.00zM486.00 110.00h2.00v1.00h-2.00zM488.00 110.00h2.00v1.00h-2.00zM490.00 110.00h6.00v1.00h-6.00zM488.00 111.00h2.00v1.00h-2.00zM490.00 111.00h6.00v1.00h-6.00zM486.00 112.00h4.00v1.00h-4.00zM490.00 112.00h2.00v1.00h-2.00zM494.00 112.00h2.00v1.00h-2.00zM498.00 104.00h2.00v1.00h-2.00zM503.00 104.00h3.00v1.00h-3.00zM499.00 105.00h2.00v1.00h-2.00zM503.00 105.00h2.00v1.00h-2.00zM505.00 105.00h2.00v1.00h-2.00zM499.00 106.00h8.00v1.00h-8.00zM497.00 107.00h4.00v1.00h-4.00zM502.00 107.00h3.00v1.00h-3.00zM499.00 108.00h2.00v1.00h-2.00zM501.00 108.00h2.00v1.00h-2.00zM503.00 108.00h3.00v1.00h-3.00zM499.00 109.00h2.00v1.00h-2.00zM501.00 109.00h2.00v1.00h-2.00zM503.00 109.00h3.00v1.00h-3.00zM499.00 110.00h3.00v1.00h-3.00zM503.00 110.00h2.00v1.00h-2.00zM505.00 110.00h2.00v1.00h-2.00zM498.00 111.00h3.00v1.00h-3.00zM497.00 112.00h2.00v1.00h-2.00zM500.00 112.00h7.00v1.00h-7.00zM550.00 105.00h7.00v1.00h-7.00zM549.00 107.00h9.00v1.00h-9.00zM551.00 108.00h2.00v1.00h-2.00zM554.00 108.00h2.00v1.00h-2.00zM551.00 109.00h2.00v1.00h-2.00zM554.00 109.00h2.00v1.00h-2.00zM551.00 110.00h2.00v1.00h-2.00zM554.00 110.00h2.00v1.00h-2.00zM550.00 111.00h3.00v1.00h-3.00zM554.00 111.00h2.00v1.00h-2.00zM556.00 111.00h2.00v1.00h-2.00zM549.00 112.00h2.00v1.00h-2.00zM555.00 112.00h3.00v1.00h-3.00zM560.00 104.00h8.00v1.00h-8.00zM563.00 105.00h2.00v1.00h-2.00zM561.00 106.00h6.00v1.00h-6.00zM559.00 107.00h10.00v1.00h-10.00zM562.00 108.00h2.00v1.00h-2.00zM565.00 108.00h2.00v1.00h-2.00zM561.00 109.00h6.00v1.00h-6.00zM560.00 110.00h8.00v1.00h-8.00zM561.00 111.00h2.00v1.00h-2.00zM563.00 111.00h2.00v1.00h-2.00zM565.00 111.00h2.00v1.00h-2.00zM559.00 112.00h3.00v1.00h-3.00zM562.00 112.00h3.00v1.00h-3.00zM566.00 112.00h3.00v1.00h-3.00zM577.00 104.00h2.00v1.00h-2.00zM576.00 105.00h2.00v1.00h-2.00zM578.00 105.00h2.00v1.00h-2.00zM575.00 106.00h2.00v1.00h-2.00zM579.00 106.00h2.00v1.00h-2.00zM573.00 107.00h10.00v1.00h-10.00zM577.00 108.00h2.00v1.00h-2.00zM574.00 109.00h8.00v1.00h-8.00zM575.00 110.00h2.00v1.00h-2.00zM577.00 110.00h2.00v1.00h-2.00zM579.00 110.00h2.00v1.00h-2.00zM575.00 111.00h2.00v1.00h-2.00zM577.00 111.00h2.00v1.00h-2.00zM579.00 111.00h2.00v1.00h-2.00zM573.00 112.00h10.00v1.00h-10.00zM586.00 104.00h2.00v1.00h-2.00zM590.00 104.00h2.00v1.00h-2.00zM586.00 105.00h2.00v1.00h-2.00zM590.00 105.00h2.00v1.00h-2.00zM586.00 106.00h8.00v1.00h-8.00zM586.00 107.00h2.00v1.00h-2.00zM586.00 108.00h2.00v1.00h-2.00zM586.00 109.00h6.00v1.00h-6.00zM586.00 110.00h2.00v1.00h-2.00zM590.00 110.00h2.00v1.00h-2.00zM585.00 111.00h2.00v1.00h-2.00zM590.00 111.00h2.00v1.00h-2.00zM584.00 112.00h2.00v1.00h-2.00zM590.00 112.00h2.00v1.00h-2.00zM595.00 104.00h2.00v1.00h-2.00zM597.00 104.00h2.00v1.00h-2.00zM599.00 104.00h2.00v1.00h-2.00zM601.00 104.00h2.00v1.00h-2.00zM596.00 105.00h4.00v1.00h-4.00zM601.00 105.00h2.00v1.00h-2.00zM595.00 106.00h10.00v1.00h-10.00zM596.00 107.00h4.00v1.00h-4.00zM601.00 107.00h3.00v1.00h-3.00zM595.00 108.00h2.00v1.00h-2.00zM597.00 108.00h2.00v1.00h-2.00zM599.00 108.00h2.00v1.00h-2.00zM601.00 108.00h3.00v1.00h-3.00zM595.00 109.00h6.00v1.00h-6.00zM601.00 109.00h3.00v1.00h-3.00zM596.00 110.00h4.00v1.00h-4.00zM601.00 110.00h3.00v1.00h-3.00zM597.00 111.00h2.00v1.00h-2.00zM601.00 111.00h3.00v1.00h-3.00zM595.00 112.00h7.00v1.00h-7.00zM603.00 112.00h2.00v1.00h-2.00z"/>
<text x="6" y="34" font-size="9.5" text-anchor="start" font-weight="normal" letter-spacing="-0.3" fill="#000">Wilcom</text>
<text x="36.5" y="34" font-size="9.5" text-anchor="start" font-weight="normal" letter-spacing="-0.1" fill="#000">(</text>
<text x="61" y="34" font-size="9.5" text-anchor="start" font-weight="normal" letter-spacing="-0.1" fill="#000">)</text>
<text x="26" y="72" font-size="9.5" text-anchor="start" font-weight="normal" letter-spacing="-0.1" fill="#000">:</text>
<text x="35" y="72" font-size="9.5" text-anchor="start" font-weight="normal" letter-spacing="-0.1" fill="#000">MEhxj_gp.EMB</text>
<text x="26" y="85" font-size="9.5" text-anchor="start" font-weight="normal" letter-spacing="-0.1" fill="#000">:</text>
<text x="35" y="85" font-size="9.5" text-anchor="start" font-weight="normal" letter-spacing="-0.1" fill="#000">Colorway 1</text>
<text x="558" y="15" font-size="9.5" text-anchor="start" font-weight="normal" letter-spacing="-0.1" fill="#000">:</text>
<text x="566" y="15" font-size="9.5" text-anchor="start" font-weight="normal" letter-spacing="-0.1" fill="#000">49762</text>
<text x="558" y="28" font-size="9.5" text-anchor="start" font-weight="normal" letter-spacing="-0.1" fill="#000">:</text>
<text x="566" y="28" font-size="9.5" text-anchor="start" font-weight="normal" letter-spacing="-0.1" fill="#000">2</text>
<text x="558" y="41" font-size="9.5" text-anchor="start" font-weight="normal" letter-spacing="-0.1" fill="#000">:</text>
<text x="566" y="41" font-size="9.5" text-anchor="start" font-weight="normal" letter-spacing="-0.1" fill="#000">1421.0 mm</text>
<text x="558" y="54" font-size="9.5" text-anchor="start" font-weight="normal" letter-spacing="-0.1" fill="#000">:</text>
<text x="566" y="54" font-size="9.5" text-anchor="start" font-weight="normal" letter-spacing="-0.1" fill="#000">483.7 mm</text>
<text x="558" y="67" font-size="9.5" text-anchor="start" font-weight="normal" letter-spacing="-0.1" fill="#000">:</text>
<text x="566" y="67" font-size="9.5" text-anchor="start" font-weight="normal" letter-spacing="-0.1" fill="#000">0.18</text>
<text x="430.5" y="98" font-size="9.5" text-anchor="start" font-weight="normal" letter-spacing="-0.1" fill="#000">:</text>
<text x="387" y="111" font-size="10" text-anchor="start" font-weight="bold" letter-spacing="-0.1" fill="#000">#</text>
<text x="400" y="111" font-size="10" text-anchor="start" font-weight="bold" letter-spacing="-0.1" fill="#000">N#</text>
<text x="454" y="111" font-size="10" text-anchor="end" font-weight="bold" letter-spacing="-0.1" fill="#000">St.</text>
<text x="512" y="111" font-size="10" text-anchor="start" font-weight="bold" letter-spacing="-0.1" fill="#000">Brand</text>
<rect x="387" y="113" width="6" height="1" fill="#000"/>
<rect x="400" y="113" width="14" height="1" fill="#000"/>
<rect x="439" y="113" width="16" height="1" fill="#000"/>
<rect x="459" y="113" width="23" height="1" fill="#000"/>
<rect x="486" y="113" width="22" height="1" fill="#000"/>
<rect x="511" y="113" width="30" height="1" fill="#000"/>
<rect x="548" y="113" width="22" height="1" fill="#000"/>
<rect x="573" y="113" width="34" height="1" fill="#000"/>
<text x="387" y="125" font-size="9.5" text-anchor="start" font-weight="normal" letter-spacing="-0.1" fill="#000">1.</text>
<text x="400" y="125" font-size="9.5" text-anchor="start" font-weight="normal" letter-spacing="-0.1" fill="#000">2</text>
<rect x="416.5" y="115.5" width="9" height="9" fill="#00f" stroke="#000" stroke-width="1"/>
<text x="454" y="125" font-size="9.5" text-anchor="end" font-weight="normal" letter-spacing="-0.1" fill="#000">17856</text>
<text x="480" y="125" font-size="9.5" text-anchor="end" font-weight="normal" letter-spacing="-0.1" fill="#000">2</text>
<text x="486" y="125" font-size="9.5" text-anchor="start" font-weight="normal" letter-spacing="-0.1" fill="#000">Blue</text>
<text x="512" y="125" font-size="9.5" text-anchor="start" font-weight="normal" letter-spacing="-0.1" fill="#000">Default</text>
<text x="610" y="125" font-size="9.5" text-anchor="end" font-weight="normal" letter-spacing="-0.1" fill="#000">#1 (1137)</text>
<text x="387" y="138" font-size="9.5" text-anchor="start" font-weight="normal" letter-spacing="-0.1" fill="#000">2.</text>
<text x="400" y="138" font-size="9.5" text-anchor="start" font-weight="normal" letter-spacing="-0.1" fill="#000">3</text>
<rect x="416.5" y="128.5" width="9" height="9" fill="#f00" stroke="#000" stroke-width="1"/>
<text x="454" y="138" font-size="9.5" text-anchor="end" font-weight="normal" letter-spacing="-0.1" fill="#000">7034</text>
<text x="480" y="138" font-size="9.5" text-anchor="end" font-weight="normal" letter-spacing="-0.1" fill="#000">3</text>
<text x="486" y="138" font-size="9.5" text-anchor="start" font-weight="normal" letter-spacing="-0.1" fill="#000">Red</text>
<text x="512" y="138" font-size="9.5" text-anchor="start" font-weight="normal" letter-spacing="-0.1" fill="#000">Default</text>
<text x="387" y="151" font-size="9.5" text-anchor="start" font-weight="normal" letter-spacing="-0.1" fill="#000">3.</text>
<text x="400" y="151" font-size="9.5" text-anchor="start" font-weight="normal" letter-spacing="-0.1" fill="#000">2</text>
<rect x="416.5" y="141.5" width="9" height="9" fill="#00f" stroke="#000" stroke-width="1"/>
<text x="454" y="151" font-size="9.5" text-anchor="end" font-weight="normal" letter-spacing="-0.1" fill="#000">17959</text>
<text x="480" y="151" font-size="9.5" text-anchor="end" font-weight="normal" letter-spacing="-0.1" fill="#000">2</text>
<text x="486" y="151" font-size="9.5" text-anchor="start" font-weight="normal" letter-spacing="-0.1" fill="#000">Blue</text>
<text x="512" y="151" font-size="9.5" text-anchor="start" font-weight="normal" letter-spacing="-0.1" fill="#000">Default</text>
<text x="610" y="151" font-size="9.5" text-anchor="end" font-weight="normal" letter-spacing="-0.1" fill="#000">#1 (1137)</text>
<text x="387" y="164" font-size="9.5" text-anchor="start" font-weight="normal" letter-spacing="-0.1" fill="#000">4.</text>
<text x="400" y="164" font-size="9.5" text-anchor="start" font-weight="normal" letter-spacing="-0.1" fill="#000">3</text>
<rect x="416.5" y="154.5" width="9" height="9" fill="#f00" stroke="#000" stroke-width="1"/>
<text x="454" y="164" font-size="9.5" text-anchor="end" font-weight="normal" letter-spacing="-0.1" fill="#000">6911</text>
<text x="480" y="164" font-size="9.5" text-anchor="end" font-weight="normal" letter-spacing="-0.1" fill="#000">3</text>
<text x="486" y="164" font-size="9.5" text-anchor="start" font-weight="normal" letter-spacing="-0.1" fill="#000">Red</text>
<text x="512" y="164" font-size="9.5" text-anchor="start" font-weight="normal" letter-spacing="-0.1" fill="#000">Default</text>
<filter id="qb" x="-5%" y="-5%" width="110%" height="110%"><feGaussianBlur stdDeviation="0.45"/></filter>
<path fill="#4a4a4a" filter="url(#qb)" d="M481.00,739.00h2.24v2.24h-2.24zM483.24,739.00h2.24v2.24h-2.24zM485.49,739.00h2.24v2.24h-2.24zM487.73,739.00h2.24v2.24h-2.24zM489.97,739.00h2.24v2.24h-2.24zM492.22,739.00h2.24v2.24h-2.24zM494.46,739.00h2.24v2.24h-2.24zM498.95,739.00h2.24v2.24h-2.24zM501.19,739.00h2.24v2.24h-2.24zM503.43,739.00h2.24v2.24h-2.24zM505.68,739.00h2.24v2.24h-2.24zM507.92,739.00h2.24v2.24h-2.24zM512.41,739.00h2.24v2.24h-2.24zM514.65,739.00h2.24v2.24h-2.24zM523.62,739.00h2.24v2.24h-2.24zM528.11,739.00h2.24v2.24h-2.24zM532.59,739.00h2.24v2.24h-2.24zM534.84,739.00h2.24v2.24h-2.24zM537.08,739.00h2.24v2.24h-2.24zM539.32,739.00h2.24v2.24h-2.24zM543.81,739.00h2.24v2.24h-2.24zM548.30,739.00h2.24v2.24h-2.24zM550.54,739.00h2.24v2.24h-2.24zM552.78,739.00h2.24v2.24h-2.24zM555.03,739.00h2.24v2.24h-2.24zM557.27,739.00h2.24v2.24h-2.24zM559.51,739.00h2.24v2.24h-2.24zM561.76,739.00h2.24v2.24h-2.24zM481.00,741.24h2.24v2.24h-2.24zM494.46,741.24h2.24v2.24h-2.24zM507.92,741.24h2.24v2.24h-2.24zM512.41,741.24h2.24v2.24h-2.24zM514.65,741.24h2.24v2.24h-2.24zM519.14,741.24h2.24v2.24h-2.24zM521.38,741.24h2.24v2.24h-2.24zM523.62,741.24h2.24v2.24h-2.24zM534.84,741.24h2.24v2.24h-2.24zM543.81,741.24h2.24v2.24h-2.24zM548.30,741.24h2.24v2.24h-2.24zM561.76,741.24h2.24v2.24h-2.24zM481.00,743.49h2.24v2.24h-2.24zM485.49,743.49h2.24v2.24h-2.24zM487.73,743.49h2.24v2.24h-2.24zM489.97,743.49h2.24v2.24h-2.24zM494.46,743.49h2.24v2.24h-2.24zM498.95,743.49h2.24v2.24h-2.24zM503.43,743.49h2.24v2.24h-2.24zM505.68,743.49h2.24v2.24h-2.24zM507.92,743.49h2.24v2.24h-2.24zM512.41,743.49h2.24v2.24h-2.24zM514.65,743.49h2.24v2.24h-2.24zM525.86,743.49h2.24v2.24h-2.24zM528.11,743.49h2.24v2.24h-2.24zM530.35,743.49h2.24v2.24h-2.24zM537.08,743.49h2.24v2.24h-2.24zM539.32,743.49h2.24v2.24h-2.24zM541.57,743.49h2.24v2.24h-2.24zM543.81,743.49h2.24v2.24h-2.24zM548.30,743.49h2.24v2.24h-2.24zM552.78,743.49h2.24v2.24h-2.24zM555.03,743.49h2.24v2.24h-2.24zM557.27,743.49h2.24v2.24h-2.24zM561.76,743.49h2.24v2.24h-2.24zM481.00,745.73h2.24v2.24h-2.24zM485.49,745.73h2.24v2.24h-2.24zM487.73,745.73h2.24v2.24h-2.24zM489.97,745.73h2.24v2.24h-2.24zM494.46,745.73h2.24v2.24h-2.24zM501.19,745.73h2.24v2.24h-2.24zM503.43,745.73h2.24v2.24h-2.24zM505.68,745.73h2.24v2.24h-2.24zM510.16,745.73h2.24v2.24h-2.24zM512.41,745.73h2.24v2.24h-2.24zM514.65,745.73h2.24v2.24h-2.24zM516.89,745.73h2.24v2.24h-2.24zM519.14,745.73h2.24v2.24h-2.24zM521.38,745.73h2.24v2.24h-2.24zM523.62,745.73h2.24v2.24h-2.24zM525.86,745.73h2.24v2.24h-2.24zM528.11,745.73h2.24v2.24h-2.24zM530.35,745.73h2.24v2.24h-2.24zM532.59,745.73h2.24v2.24h-2.24zM539.32,745.73h2.24v2.24h-2.24zM541.57,745.73h2.24v2.24h-2.24zM543.81,745.73h2.24v2.24h-2.24zM548.30,745.73h2.24v2.24h-2.24zM552.78,745.73h2.24v2.24h-2.24zM555.03,745.73h2.24v2.24h-2.24zM557.27,745.73h2.24v2.24h-2.24zM561.76,745.73h2.24v2.24h-2.24zM481.00,747.97h2.24v2.24h-2.24zM485.49,747.97h2.24v2.24h-2.24zM487.73,747.97h2.24v2.24h-2.24zM489.97,747.97h2.24v2.24h-2.24zM494.46,747.97h2.24v2.24h-2.24zM501.19,747.97h2.24v2.24h-2.24zM512.41,747.97h2.24v2.24h-2.24zM514.65,747.97h2.24v2.24h-2.24zM516.89,747.97h2.24v2.24h-2.24zM525.86,747.97h2.24v2.24h-2.24zM528.11,747.97h2.24v2.24h-2.24zM543.81,747.97h2.24v2.24h-2.24zM548.30,747.97h2.24v2.24h-2.24zM552.78,747.97h2.24v2.24h-2.24zM555.03,747.97h2.24v2.24h-2.24zM557.27,747.97h2.24v2.24h-2.24zM561.76,747.97h2.24v2.24h-2.24zM481.00,750.22h2.24v2.24h-2.24zM494.46,750.22h2.24v2.24h-2.24zM498.95,750.22h2.24v2.24h-2.24zM507.92,750.22h2.24v2.24h-2.24zM514.65,750.22h2.24v2.24h-2.24zM525.86,750.22h2.24v2.24h-2.24zM528.11,750.22h2.24v2.24h-2.24zM532.59,750.22h2.24v2.24h-2.24zM539.32,750.22h2.24v2.24h-2.24zM541.57,750.22h2.24v2.24h-2.24zM548.30,750.22h2.24v2.24h-2.24zM561.76,750.22h2.24v2.24h-2.24zM481.00,752.46h2.24v2.24h-2.24zM483.24,752.46h2.24v2.24h-2.24zM485.49,752.46h2.24v2.24h-2.24zM487.73,752.46h2.24v2.24h-2.24zM489.97,752.46h2.24v2.24h-2.24zM492.22,752.46h2.24v2.24h-2.24zM494.46,752.46h2.24v2.24h-2.24zM498.95,752.46h2.24v2.24h-2.24zM503.43,752.46h2.24v2.24h-2.24zM507.92,752.46h2.24v2.24h-2.24zM512.41,752.46h2.24v2.24h-2.24zM516.89,752.46h2.24v2.24h-2.24zM521.38,752.46h2.24v2.24h-2.24zM525.86,752.46h2.24v2.24h-2.24zM530.35,752.46h2.24v2.24h-2.24zM534.84,752.46h2.24v2.24h-2.24zM539.32,752.46h2.24v2.24h-2.24zM543.81,752.46h2.24v2.24h-2.24zM548.30,752.46h2.24v2.24h-2.24zM550.54,752.46h2.24v2.24h-2.24zM552.78,752.46h2.24v2.24h-2.24zM555.03,752.46h2.24v2.24h-2.24zM557.27,752.46h2.24v2.24h-2.24zM559.51,752.46h2.24v2.24h-2.24zM561.76,752.46h2.24v2.24h-2.24zM501.19,754.70h2.24v2.24h-2.24zM503.43,754.70h2.24v2.24h-2.24zM516.89,754.70h2.24v2.24h-2.24zM528.11,754.70h2.24v2.24h-2.24zM532.59,754.70h2.24v2.24h-2.24zM543.81,754.70h2.24v2.24h-2.24zM481.00,756.95h2.24v2.24h-2.24zM489.97,756.95h2.24v2.24h-2.24zM494.46,756.95h2.24v2.24h-2.24zM496.70,756.95h2.24v2.24h-2.24zM503.43,756.95h2.24v2.24h-2.24zM507.92,756.95h2.24v2.24h-2.24zM510.16,756.95h2.24v2.24h-2.24zM516.89,756.95h2.24v2.24h-2.24zM519.14,756.95h2.24v2.24h-2.24zM523.62,756.95h2.24v2.24h-2.24zM525.86,756.95h2.24v2.24h-2.24zM528.11,756.95h2.24v2.24h-2.24zM532.59,756.95h2.24v2.24h-2.24zM537.08,756.95h2.24v2.24h-2.24zM539.32,756.95h2.24v2.24h-2.24zM541.57,756.95h2.24v2.24h-2.24zM548.30,756.95h2.24v2.24h-2.24zM557.27,756.95h2.24v2.24h-2.24zM559.51,756.95h2.24v2.24h-2.24zM561.76,756.95h2.24v2.24h-2.24zM483.24,759.19h2.24v2.24h-2.24zM485.49,759.19h2.24v2.24h-2.24zM487.73,759.19h2.24v2.24h-2.24zM496.70,759.19h2.24v2.24h-2.24zM505.68,759.19h2.24v2.24h-2.24zM507.92,759.19h2.24v2.24h-2.24zM512.41,759.19h2.24v2.24h-2.24zM514.65,759.19h2.24v2.24h-2.24zM523.62,759.19h2.24v2.24h-2.24zM528.11,759.19h2.24v2.24h-2.24zM532.59,759.19h2.24v2.24h-2.24zM534.84,759.19h2.24v2.24h-2.24zM541.57,759.19h2.24v2.24h-2.24zM543.81,759.19h2.24v2.24h-2.24zM548.30,759.19h2.24v2.24h-2.24zM550.54,759.19h2.24v2.24h-2.24zM552.78,759.19h2.24v2.24h-2.24zM555.03,759.19h2.24v2.24h-2.24zM557.27,759.19h2.24v2.24h-2.24zM559.51,759.19h2.24v2.24h-2.24zM561.76,759.19h2.24v2.24h-2.24zM483.24,761.43h2.24v2.24h-2.24zM487.73,761.43h2.24v2.24h-2.24zM489.97,761.43h2.24v2.24h-2.24zM492.22,761.43h2.24v2.24h-2.24zM494.46,761.43h2.24v2.24h-2.24zM496.70,761.43h2.24v2.24h-2.24zM503.43,761.43h2.24v2.24h-2.24zM505.68,761.43h2.24v2.24h-2.24zM510.16,761.43h2.24v2.24h-2.24zM514.65,761.43h2.24v2.24h-2.24zM516.89,761.43h2.24v2.24h-2.24zM521.38,761.43h2.24v2.24h-2.24zM530.35,761.43h2.24v2.24h-2.24zM539.32,761.43h2.24v2.24h-2.24zM541.57,761.43h2.24v2.24h-2.24zM543.81,761.43h2.24v2.24h-2.24zM546.05,761.43h2.24v2.24h-2.24zM548.30,761.43h2.24v2.24h-2.24zM552.78,761.43h2.24v2.24h-2.24zM555.03,761.43h2.24v2.24h-2.24zM557.27,761.43h2.24v2.24h-2.24zM483.24,763.68h2.24v2.24h-2.24zM485.49,763.68h2.24v2.24h-2.24zM487.73,763.68h2.24v2.24h-2.24zM489.97,763.68h2.24v2.24h-2.24zM492.22,763.68h2.24v2.24h-2.24zM496.70,763.68h2.24v2.24h-2.24zM505.68,763.68h2.24v2.24h-2.24zM510.16,763.68h2.24v2.24h-2.24zM512.41,763.68h2.24v2.24h-2.24zM514.65,763.68h2.24v2.24h-2.24zM516.89,763.68h2.24v2.24h-2.24zM519.14,763.68h2.24v2.24h-2.24zM523.62,763.68h2.24v2.24h-2.24zM528.11,763.68h2.24v2.24h-2.24zM530.35,763.68h2.24v2.24h-2.24zM532.59,763.68h2.24v2.24h-2.24zM534.84,763.68h2.24v2.24h-2.24zM537.08,763.68h2.24v2.24h-2.24zM539.32,763.68h2.24v2.24h-2.24zM541.57,763.68h2.24v2.24h-2.24zM543.81,763.68h2.24v2.24h-2.24zM559.51,763.68h2.24v2.24h-2.24zM561.76,763.68h2.24v2.24h-2.24zM483.24,765.92h2.24v2.24h-2.24zM489.97,765.92h2.24v2.24h-2.24zM494.46,765.92h2.24v2.24h-2.24zM503.43,765.92h2.24v2.24h-2.24zM525.86,765.92h2.24v2.24h-2.24zM528.11,765.92h2.24v2.24h-2.24zM530.35,765.92h2.24v2.24h-2.24zM532.59,765.92h2.24v2.24h-2.24zM534.84,765.92h2.24v2.24h-2.24zM548.30,765.92h2.24v2.24h-2.24zM550.54,765.92h2.24v2.24h-2.24zM481.00,768.16h2.24v2.24h-2.24zM485.49,768.16h2.24v2.24h-2.24zM487.73,768.16h2.24v2.24h-2.24zM489.97,768.16h2.24v2.24h-2.24zM501.19,768.16h2.24v2.24h-2.24zM503.43,768.16h2.24v2.24h-2.24zM505.68,768.16h2.24v2.24h-2.24zM516.89,768.16h2.24v2.24h-2.24zM519.14,768.16h2.24v2.24h-2.24zM521.38,768.16h2.24v2.24h-2.24zM525.86,768.16h2.24v2.24h-2.24zM530.35,768.16h2.24v2.24h-2.24zM532.59,768.16h2.24v2.24h-2.24zM534.84,768.16h2.24v2.24h-2.24zM543.81,768.16h2.24v2.24h-2.24zM548.30,768.16h2.24v2.24h-2.24zM550.54,768.16h2.24v2.24h-2.24zM552.78,768.16h2.24v2.24h-2.24zM557.27,768.16h2.24v2.24h-2.24zM481.00,770.41h2.24v2.24h-2.24zM483.24,770.41h2.24v2.24h-2.24zM489.97,770.41h2.24v2.24h-2.24zM492.22,770.41h2.24v2.24h-2.24zM494.46,770.41h2.24v2.24h-2.24zM498.95,770.41h2.24v2.24h-2.24zM503.43,770.41h2.24v2.24h-2.24zM510.16,770.41h2.24v2.24h-2.24zM521.38,770.41h2.24v2.24h-2.24zM525.86,770.41h2.24v2.24h-2.24zM528.11,770.41h2.24v2.24h-2.24zM530.35,770.41h2.24v2.24h-2.24zM532.59,770.41h2.24v2.24h-2.24zM534.84,770.41h2.24v2.24h-2.24zM537.08,770.41h2.24v2.24h-2.24zM539.32,770.41h2.24v2.24h-2.24zM541.57,770.41h2.24v2.24h-2.24zM543.81,770.41h2.24v2.24h-2.24zM548.30,770.41h2.24v2.24h-2.24zM555.03,770.41h2.24v2.24h-2.24zM481.00,772.65h2.24v2.24h-2.24zM483.24,772.65h2.24v2.24h-2.24zM485.49,772.65h2.24v2.24h-2.24zM492.22,772.65h2.24v2.24h-2.24zM496.70,772.65h2.24v2.24h-2.24zM498.95,772.65h2.24v2.24h-2.24zM501.19,772.65h2.24v2.24h-2.24zM505.68,772.65h2.24v2.24h-2.24zM510.16,772.65h2.24v2.24h-2.24zM512.41,772.65h2.24v2.24h-2.24zM516.89,772.65h2.24v2.24h-2.24zM519.14,772.65h2.24v2.24h-2.24zM539.32,772.65h2.24v2.24h-2.24zM543.81,772.65h2.24v2.24h-2.24zM550.54,772.65h2.24v2.24h-2.24zM552.78,772.65h2.24v2.24h-2.24zM557.27,772.65h2.24v2.24h-2.24zM559.51,772.65h2.24v2.24h-2.24zM561.76,772.65h2.24v2.24h-2.24zM481.00,774.89h2.24v2.24h-2.24zM487.73,774.89h2.24v2.24h-2.24zM492.22,774.89h2.24v2.24h-2.24zM494.46,774.89h2.24v2.24h-2.24zM496.70,774.89h2.24v2.24h-2.24zM498.95,774.89h2.24v2.24h-2.24zM501.19,774.89h2.24v2.24h-2.24zM503.43,774.89h2.24v2.24h-2.24zM507.92,774.89h2.24v2.24h-2.24zM510.16,774.89h2.24v2.24h-2.24zM516.89,774.89h2.24v2.24h-2.24zM519.14,774.89h2.24v2.24h-2.24zM521.38,774.89h2.24v2.24h-2.24zM523.62,774.89h2.24v2.24h-2.24zM525.86,774.89h2.24v2.24h-2.24zM528.11,774.89h2.24v2.24h-2.24zM530.35,774.89h2.24v2.24h-2.24zM532.59,774.89h2.24v2.24h-2.24zM541.57,774.89h2.24v2.24h-2.24zM543.81,774.89h2.24v2.24h-2.24zM548.30,774.89h2.24v2.24h-2.24zM550.54,774.89h2.24v2.24h-2.24zM552.78,774.89h2.24v2.24h-2.24zM555.03,774.89h2.24v2.24h-2.24zM559.51,774.89h2.24v2.24h-2.24zM485.49,777.14h2.24v2.24h-2.24zM487.73,777.14h2.24v2.24h-2.24zM489.97,777.14h2.24v2.24h-2.24zM492.22,777.14h2.24v2.24h-2.24zM503.43,777.14h2.24v2.24h-2.24zM505.68,777.14h2.24v2.24h-2.24zM512.41,777.14h2.24v2.24h-2.24zM516.89,777.14h2.24v2.24h-2.24zM519.14,777.14h2.24v2.24h-2.24zM530.35,777.14h2.24v2.24h-2.24zM532.59,777.14h2.24v2.24h-2.24zM534.84,777.14h2.24v2.24h-2.24zM550.54,777.14h2.24v2.24h-2.24zM555.03,777.14h2.24v2.24h-2.24zM559.51,777.14h2.24v2.24h-2.24zM483.24,779.38h2.24v2.24h-2.24zM485.49,779.38h2.24v2.24h-2.24zM487.73,779.38h2.24v2.24h-2.24zM494.46,779.38h2.24v2.24h-2.24zM496.70,779.38h2.24v2.24h-2.24zM503.43,779.38h2.24v2.24h-2.24zM505.68,779.38h2.24v2.24h-2.24zM510.16,779.38h2.24v2.24h-2.24zM512.41,779.38h2.24v2.24h-2.24zM514.65,779.38h2.24v2.24h-2.24zM523.62,779.38h2.24v2.24h-2.24zM525.86,779.38h2.24v2.24h-2.24zM528.11,779.38h2.24v2.24h-2.24zM534.84,779.38h2.24v2.24h-2.24zM537.08,779.38h2.24v2.24h-2.24zM539.32,779.38h2.24v2.24h-2.24zM543.81,779.38h2.24v2.24h-2.24zM546.05,779.38h2.24v2.24h-2.24zM552.78,779.38h2.24v2.24h-2.24zM555.03,779.38h2.24v2.24h-2.24zM557.27,779.38h2.24v2.24h-2.24zM559.51,779.38h2.24v2.24h-2.24zM481.00,781.62h2.24v2.24h-2.24zM489.97,781.62h2.24v2.24h-2.24zM498.95,781.62h2.24v2.24h-2.24zM501.19,781.62h2.24v2.24h-2.24zM505.68,781.62h2.24v2.24h-2.24zM510.16,781.62h2.24v2.24h-2.24zM512.41,781.62h2.24v2.24h-2.24zM514.65,781.62h2.24v2.24h-2.24zM516.89,781.62h2.24v2.24h-2.24zM523.62,781.62h2.24v2.24h-2.24zM525.86,781.62h2.24v2.24h-2.24zM528.11,781.62h2.24v2.24h-2.24zM532.59,781.62h2.24v2.24h-2.24zM534.84,781.62h2.24v2.24h-2.24zM537.08,781.62h2.24v2.24h-2.24zM539.32,781.62h2.24v2.24h-2.24zM552.78,781.62h2.24v2.24h-2.24zM555.03,781.62h2.24v2.24h-2.24zM561.76,781.62h2.24v2.24h-2.24zM483.24,783.86h2.24v2.24h-2.24zM485.49,783.86h2.24v2.24h-2.24zM487.73,783.86h2.24v2.24h-2.24zM489.97,783.86h2.24v2.24h-2.24zM492.22,783.86h2.24v2.24h-2.24zM494.46,783.86h2.24v2.24h-2.24zM496.70,783.86h2.24v2.24h-2.24zM501.19,783.86h2.24v2.24h-2.24zM505.68,783.86h2.24v2.24h-2.24zM507.92,783.86h2.24v2.24h-2.24zM514.65,783.86h2.24v2.24h-2.24zM516.89,783.86h2.24v2.24h-2.24zM519.14,783.86h2.24v2.24h-2.24zM521.38,783.86h2.24v2.24h-2.24zM525.86,783.86h2.24v2.24h-2.24zM528.11,783.86h2.24v2.24h-2.24zM532.59,783.86h2.24v2.24h-2.24zM534.84,783.86h2.24v2.24h-2.24zM541.57,783.86h2.24v2.24h-2.24zM543.81,783.86h2.24v2.24h-2.24zM546.05,783.86h2.24v2.24h-2.24zM550.54,783.86h2.24v2.24h-2.24zM557.27,783.86h2.24v2.24h-2.24zM559.51,783.86h2.24v2.24h-2.24zM483.24,786.11h2.24v2.24h-2.24zM487.73,786.11h2.24v2.24h-2.24zM489.97,786.11h2.24v2.24h-2.24zM492.22,786.11h2.24v2.24h-2.24zM503.43,786.11h2.24v2.24h-2.24zM505.68,786.11h2.24v2.24h-2.24zM507.92,786.11h2.24v2.24h-2.24zM514.65,786.11h2.24v2.24h-2.24zM516.89,786.11h2.24v2.24h-2.24zM519.14,786.11h2.24v2.24h-2.24zM521.38,786.11h2.24v2.24h-2.24zM525.86,786.11h2.24v2.24h-2.24zM539.32,786.11h2.24v2.24h-2.24zM541.57,786.11h2.24v2.24h-2.24zM543.81,786.11h2.24v2.24h-2.24zM548.30,786.11h2.24v2.24h-2.24zM550.54,786.11h2.24v2.24h-2.24zM555.03,786.11h2.24v2.24h-2.24zM557.27,786.11h2.24v2.24h-2.24zM559.51,786.11h2.24v2.24h-2.24zM481.00,788.35h2.24v2.24h-2.24zM489.97,788.35h2.24v2.24h-2.24zM492.22,788.35h2.24v2.24h-2.24zM494.46,788.35h2.24v2.24h-2.24zM496.70,788.35h2.24v2.24h-2.24zM501.19,788.35h2.24v2.24h-2.24zM503.43,788.35h2.24v2.24h-2.24zM505.68,788.35h2.24v2.24h-2.24zM519.14,788.35h2.24v2.24h-2.24zM523.62,788.35h2.24v2.24h-2.24zM528.11,788.35h2.24v2.24h-2.24zM532.59,788.35h2.24v2.24h-2.24zM534.84,788.35h2.24v2.24h-2.24zM537.08,788.35h2.24v2.24h-2.24zM539.32,788.35h2.24v2.24h-2.24zM546.05,788.35h2.24v2.24h-2.24zM548.30,788.35h2.24v2.24h-2.24zM555.03,788.35h2.24v2.24h-2.24zM481.00,790.59h2.24v2.24h-2.24zM483.24,790.59h2.24v2.24h-2.24zM492.22,790.59h2.24v2.24h-2.24zM496.70,790.59h2.24v2.24h-2.24zM498.95,790.59h2.24v2.24h-2.24zM507.92,790.59h2.24v2.24h-2.24zM512.41,790.59h2.24v2.24h-2.24zM514.65,790.59h2.24v2.24h-2.24zM521.38,790.59h2.24v2.24h-2.24zM528.11,790.59h2.24v2.24h-2.24zM530.35,790.59h2.24v2.24h-2.24zM532.59,790.59h2.24v2.24h-2.24zM534.84,790.59h2.24v2.24h-2.24zM537.08,790.59h2.24v2.24h-2.24zM543.81,790.59h2.24v2.24h-2.24zM546.05,790.59h2.24v2.24h-2.24zM548.30,790.59h2.24v2.24h-2.24zM552.78,790.59h2.24v2.24h-2.24zM555.03,790.59h2.24v2.24h-2.24zM557.27,790.59h2.24v2.24h-2.24zM481.00,792.84h2.24v2.24h-2.24zM483.24,792.84h2.24v2.24h-2.24zM485.49,792.84h2.24v2.24h-2.24zM492.22,792.84h2.24v2.24h-2.24zM494.46,792.84h2.24v2.24h-2.24zM498.95,792.84h2.24v2.24h-2.24zM501.19,792.84h2.24v2.24h-2.24zM503.43,792.84h2.24v2.24h-2.24zM507.92,792.84h2.24v2.24h-2.24zM512.41,792.84h2.24v2.24h-2.24zM514.65,792.84h2.24v2.24h-2.24zM521.38,792.84h2.24v2.24h-2.24zM523.62,792.84h2.24v2.24h-2.24zM528.11,792.84h2.24v2.24h-2.24zM530.35,792.84h2.24v2.24h-2.24zM534.84,792.84h2.24v2.24h-2.24zM539.32,792.84h2.24v2.24h-2.24zM543.81,792.84h2.24v2.24h-2.24zM546.05,792.84h2.24v2.24h-2.24zM548.30,792.84h2.24v2.24h-2.24zM557.27,792.84h2.24v2.24h-2.24zM561.76,792.84h2.24v2.24h-2.24zM483.24,795.08h2.24v2.24h-2.24zM485.49,795.08h2.24v2.24h-2.24zM492.22,795.08h2.24v2.24h-2.24zM501.19,795.08h2.24v2.24h-2.24zM503.43,795.08h2.24v2.24h-2.24zM510.16,795.08h2.24v2.24h-2.24zM512.41,795.08h2.24v2.24h-2.24zM516.89,795.08h2.24v2.24h-2.24zM525.86,795.08h2.24v2.24h-2.24zM530.35,795.08h2.24v2.24h-2.24zM532.59,795.08h2.24v2.24h-2.24zM539.32,795.08h2.24v2.24h-2.24zM541.57,795.08h2.24v2.24h-2.24zM543.81,795.08h2.24v2.24h-2.24zM548.30,795.08h2.24v2.24h-2.24zM550.54,795.08h2.24v2.24h-2.24zM552.78,795.08h2.24v2.24h-2.24zM559.51,795.08h2.24v2.24h-2.24zM483.24,797.32h2.24v2.24h-2.24zM487.73,797.32h2.24v2.24h-2.24zM494.46,797.32h2.24v2.24h-2.24zM496.70,797.32h2.24v2.24h-2.24zM498.95,797.32h2.24v2.24h-2.24zM503.43,797.32h2.24v2.24h-2.24zM507.92,797.32h2.24v2.24h-2.24zM510.16,797.32h2.24v2.24h-2.24zM512.41,797.32h2.24v2.24h-2.24zM516.89,797.32h2.24v2.24h-2.24zM519.14,797.32h2.24v2.24h-2.24zM525.86,797.32h2.24v2.24h-2.24zM528.11,797.32h2.24v2.24h-2.24zM530.35,797.32h2.24v2.24h-2.24zM532.59,797.32h2.24v2.24h-2.24zM534.84,797.32h2.24v2.24h-2.24zM537.08,797.32h2.24v2.24h-2.24zM539.32,797.32h2.24v2.24h-2.24zM541.57,797.32h2.24v2.24h-2.24zM546.05,797.32h2.24v2.24h-2.24zM550.54,797.32h2.24v2.24h-2.24zM559.51,797.32h2.24v2.24h-2.24zM481.00,799.57h2.24v2.24h-2.24zM485.49,799.57h2.24v2.24h-2.24zM496.70,799.57h2.24v2.24h-2.24zM501.19,799.57h2.24v2.24h-2.24zM507.92,799.57h2.24v2.24h-2.24zM514.65,799.57h2.24v2.24h-2.24zM516.89,799.57h2.24v2.24h-2.24zM521.38,799.57h2.24v2.24h-2.24zM525.86,799.57h2.24v2.24h-2.24zM530.35,799.57h2.24v2.24h-2.24zM537.08,799.57h2.24v2.24h-2.24zM539.32,799.57h2.24v2.24h-2.24zM543.81,799.57h2.24v2.24h-2.24zM546.05,799.57h2.24v2.24h-2.24zM548.30,799.57h2.24v2.24h-2.24zM550.54,799.57h2.24v2.24h-2.24zM559.51,799.57h2.24v2.24h-2.24zM481.00,801.81h2.24v2.24h-2.24zM487.73,801.81h2.24v2.24h-2.24zM494.46,801.81h2.24v2.24h-2.24zM498.95,801.81h2.24v2.24h-2.24zM505.68,801.81h2.24v2.24h-2.24zM510.16,801.81h2.24v2.24h-2.24zM516.89,801.81h2.24v2.24h-2.24zM521.38,801.81h2.24v2.24h-2.24zM523.62,801.81h2.24v2.24h-2.24zM528.11,801.81h2.24v2.24h-2.24zM532.59,801.81h2.24v2.24h-2.24zM543.81,801.81h2.24v2.24h-2.24zM546.05,801.81h2.24v2.24h-2.24zM548.30,801.81h2.24v2.24h-2.24zM550.54,801.81h2.24v2.24h-2.24zM555.03,801.81h2.24v2.24h-2.24zM561.76,801.81h2.24v2.24h-2.24zM503.43,804.05h2.24v2.24h-2.24zM507.92,804.05h2.24v2.24h-2.24zM510.16,804.05h2.24v2.24h-2.24zM514.65,804.05h2.24v2.24h-2.24zM516.89,804.05h2.24v2.24h-2.24zM519.14,804.05h2.24v2.24h-2.24zM528.11,804.05h2.24v2.24h-2.24zM530.35,804.05h2.24v2.24h-2.24zM532.59,804.05h2.24v2.24h-2.24zM539.32,804.05h2.24v2.24h-2.24zM543.81,804.05h2.24v2.24h-2.24zM550.54,804.05h2.24v2.24h-2.24zM555.03,804.05h2.24v2.24h-2.24zM559.51,804.05h2.24v2.24h-2.24zM561.76,804.05h2.24v2.24h-2.24zM481.00,806.30h2.24v2.24h-2.24zM483.24,806.30h2.24v2.24h-2.24zM485.49,806.30h2.24v2.24h-2.24zM487.73,806.30h2.24v2.24h-2.24zM489.97,806.30h2.24v2.24h-2.24zM492.22,806.30h2.24v2.24h-2.24zM494.46,806.30h2.24v2.24h-2.24zM505.68,806.30h2.24v2.24h-2.24zM507.92,806.30h2.24v2.24h-2.24zM510.16,806.30h2.24v2.24h-2.24zM512.41,806.30h2.24v2.24h-2.24zM521.38,806.30h2.24v2.24h-2.24zM528.11,806.30h2.24v2.24h-2.24zM532.59,806.30h2.24v2.24h-2.24zM534.84,806.30h2.24v2.24h-2.24zM537.08,806.30h2.24v2.24h-2.24zM539.32,806.30h2.24v2.24h-2.24zM541.57,806.30h2.24v2.24h-2.24zM543.81,806.30h2.24v2.24h-2.24zM555.03,806.30h2.24v2.24h-2.24zM559.51,806.30h2.24v2.24h-2.24zM481.00,808.54h2.24v2.24h-2.24zM494.46,808.54h2.24v2.24h-2.24zM498.95,808.54h2.24v2.24h-2.24zM507.92,808.54h2.24v2.24h-2.24zM512.41,808.54h2.24v2.24h-2.24zM514.65,808.54h2.24v2.24h-2.24zM528.11,808.54h2.24v2.24h-2.24zM537.08,808.54h2.24v2.24h-2.24zM543.81,808.54h2.24v2.24h-2.24zM546.05,808.54h2.24v2.24h-2.24zM550.54,808.54h2.24v2.24h-2.24zM555.03,808.54h2.24v2.24h-2.24zM557.27,808.54h2.24v2.24h-2.24zM559.51,808.54h2.24v2.24h-2.24zM481.00,810.78h2.24v2.24h-2.24zM485.49,810.78h2.24v2.24h-2.24zM487.73,810.78h2.24v2.24h-2.24zM489.97,810.78h2.24v2.24h-2.24zM494.46,810.78h2.24v2.24h-2.24zM498.95,810.78h2.24v2.24h-2.24zM503.43,810.78h2.24v2.24h-2.24zM512.41,810.78h2.24v2.24h-2.24zM521.38,810.78h2.24v2.24h-2.24zM523.62,810.78h2.24v2.24h-2.24zM525.86,810.78h2.24v2.24h-2.24zM528.11,810.78h2.24v2.24h-2.24zM541.57,810.78h2.24v2.24h-2.24zM543.81,810.78h2.24v2.24h-2.24zM546.05,810.78h2.24v2.24h-2.24zM550.54,810.78h2.24v2.24h-2.24zM552.78,810.78h2.24v2.24h-2.24zM555.03,810.78h2.24v2.24h-2.24zM557.27,810.78h2.24v2.24h-2.24zM559.51,810.78h2.24v2.24h-2.24zM561.76,810.78h2.24v2.24h-2.24zM481.00,813.03h2.24v2.24h-2.24zM485.49,813.03h2.24v2.24h-2.24zM487.73,813.03h2.24v2.24h-2.24zM489.97,813.03h2.24v2.24h-2.24zM494.46,813.03h2.24v2.24h-2.24zM498.95,813.03h2.24v2.24h-2.24zM501.19,813.03h2.24v2.24h-2.24zM505.68,813.03h2.24v2.24h-2.24zM512.41,813.03h2.24v2.24h-2.24zM516.89,813.03h2.24v2.24h-2.24zM521.38,813.03h2.24v2.24h-2.24zM523.62,813.03h2.24v2.24h-2.24zM525.86,813.03h2.24v2.24h-2.24zM532.59,813.03h2.24v2.24h-2.24zM534.84,813.03h2.24v2.24h-2.24zM537.08,813.03h2.24v2.24h-2.24zM541.57,813.03h2.24v2.24h-2.24zM543.81,813.03h2.24v2.24h-2.24zM546.05,813.03h2.24v2.24h-2.24zM550.54,813.03h2.24v2.24h-2.24zM555.03,813.03h2.24v2.24h-2.24zM557.27,813.03h2.24v2.24h-2.24zM561.76,813.03h2.24v2.24h-2.24zM481.00,815.27h2.24v2.24h-2.24zM485.49,815.27h2.24v2.24h-2.24zM487.73,815.27h2.24v2.24h-2.24zM489.97,815.27h2.24v2.24h-2.24zM494.46,815.27h2.24v2.24h-2.24zM498.95,815.27h2.24v2.24h-2.24zM501.19,815.27h2.24v2.24h-2.24zM505.68,815.27h2.24v2.24h-2.24zM510.16,815.27h2.24v2.24h-2.24zM512.41,815.27h2.24v2.24h-2.24zM514.65,815.27h2.24v2.24h-2.24zM521.38,815.27h2.24v2.24h-2.24zM525.86,815.27h2.24v2.24h-2.24zM528.11,815.27h2.24v2.24h-2.24zM539.32,815.27h2.24v2.24h-2.24zM541.57,815.27h2.24v2.24h-2.24zM543.81,815.27h2.24v2.24h-2.24zM552.78,815.27h2.24v2.24h-2.24zM555.03,815.27h2.24v2.24h-2.24zM561.76,815.27h2.24v2.24h-2.24zM481.00,817.51h2.24v2.24h-2.24zM494.46,817.51h2.24v2.24h-2.24zM498.95,817.51h2.24v2.24h-2.24zM501.19,817.51h2.24v2.24h-2.24zM503.43,817.51h2.24v2.24h-2.24zM507.92,817.51h2.24v2.24h-2.24zM510.16,817.51h2.24v2.24h-2.24zM512.41,817.51h2.24v2.24h-2.24zM519.14,817.51h2.24v2.24h-2.24zM523.62,817.51h2.24v2.24h-2.24zM525.86,817.51h2.24v2.24h-2.24zM534.84,817.51h2.24v2.24h-2.24zM537.08,817.51h2.24v2.24h-2.24zM541.57,817.51h2.24v2.24h-2.24zM543.81,817.51h2.24v2.24h-2.24zM546.05,817.51h2.24v2.24h-2.24zM548.30,817.51h2.24v2.24h-2.24zM550.54,817.51h2.24v2.24h-2.24zM561.76,817.51h2.24v2.24h-2.24zM481.00,819.76h2.24v2.24h-2.24zM483.24,819.76h2.24v2.24h-2.24zM485.49,819.76h2.24v2.24h-2.24zM487.73,819.76h2.24v2.24h-2.24zM489.97,819.76h2.24v2.24h-2.24zM492.22,819.76h2.24v2.24h-2.24zM494.46,819.76h2.24v2.24h-2.24zM498.95,819.76h2.24v2.24h-2.24zM501.19,819.76h2.24v2.24h-2.24zM519.14,819.76h2.24v2.24h-2.24zM521.38,819.76h2.24v2.24h-2.24zM525.86,819.76h2.24v2.24h-2.24zM528.11,819.76h2.24v2.24h-2.24zM537.08,819.76h2.24v2.24h-2.24zM539.32,819.76h2.24v2.24h-2.24zM541.57,819.76h2.24v2.24h-2.24zM546.05,819.76h2.24v2.24h-2.24zM552.78,819.76h2.24v2.24h-2.24zM559.51,819.76h2.24v2.24h-2.24zM561.76,819.76h2.24v2.24h-2.24z"/>
<rect x="510.5" y="767.5" width="26" height="26" fill="#fff"/><rect x="512" y="769" width="23" height="23" fill="#f45a5a"/>
<rect x="512.5" y="770.5" width="21" height="19" fill="none" stroke="#fff" stroke-width="0.6" opacity="0.8"/>
<path fill="#fff" d="M520.00 772.00h1.00v1.00h-1.00zM514.00 773.00h1.00v1.00h-1.00zM520.00 773.00h1.00v1.00h-1.00zM514.00 774.00h1.00v1.00h-1.00zM516.00 774.00h2.00v1.00h-2.00zM520.00 774.00h1.00v1.00h-1.00zM514.00 775.00h1.00v1.00h-1.00zM517.00 775.00h1.00v1.00h-1.00zM520.00 775.00h1.00v1.00h-1.00zM514.00 776.00h1.00v1.00h-1.00zM520.00 776.00h1.00v1.00h-1.00zM514.00 777.00h1.00v1.00h-1.00zM516.00 777.00h1.00v1.00h-1.00zM520.00 777.00h1.00v1.00h-1.00zM514.00 778.00h3.00v1.00h-3.00zM519.00 778.00h2.00v1.00h-2.00zM514.00 779.00h1.00v1.00h-1.00zM518.00 779.00h1.00v1.00h-1.00zM521.00 779.00h1.00v1.00h-1.00zM516.00 780.00h2.00v1.00h-2.00zM521.00 780.00h1.00v1.00h-1.00zM514.00 782.00h8.00v1.00h-8.00zM514.00 783.00h1.00v1.00h-1.00zM516.00 783.00h1.00v1.00h-1.00zM521.00 783.00h1.00v1.00h-1.00zM514.00 784.00h1.00v1.00h-1.00zM516.00 784.00h6.00v1.00h-6.00zM514.00 785.00h2.00v1.00h-2.00zM517.00 785.00h2.00v1.00h-2.00zM521.00 785.00h1.00v1.00h-1.00zM514.00 786.00h1.00v1.00h-1.00zM516.00 786.00h1.00v1.00h-1.00zM519.00 786.00h1.00v1.00h-1.00zM521.00 786.00h1.00v1.00h-1.00zM514.00 787.00h4.00v1.00h-4.00zM520.00 787.00h2.00v1.00h-2.00zM514.00 788.00h1.00v1.00h-1.00zM517.00 788.00h2.00v1.00h-2.00zM521.00 788.00h1.00v1.00h-1.00zM514.00 789.00h1.00v1.00h-1.00zM518.00 789.00h1.00v1.00h-1.00zM521.00 789.00h1.00v1.00h-1.00zM514.00 790.00h8.00v1.00h-8.00zM525.00 772.00h2.00v1.00h-2.00zM532.00 772.00h1.00v1.00h-1.00zM525.00 773.00h4.00v1.00h-4.00zM530.00 773.00h1.00v1.00h-1.00zM532.00 773.00h1.00v1.00h-1.00zM524.00 774.00h5.00v1.00h-5.00zM530.00 774.00h1.00v1.00h-1.00zM532.00 774.00h1.00v1.00h-1.00zM526.00 775.00h1.00v1.00h-1.00zM530.00 775.00h1.00v1.00h-1.00zM532.00 775.00h1.00v1.00h-1.00zM525.00 776.00h4.00v1.00h-4.00zM531.00 776.00h2.00v1.00h-2.00zM525.00 777.00h2.00v1.00h-2.00zM528.00 777.00h1.00v1.00h-1.00zM524.00 778.00h9.00v1.00h-9.00zM524.00 779.00h3.00v1.00h-3.00zM528.00 779.00h1.00v1.00h-1.00zM530.00 779.00h1.00v1.00h-1.00zM526.00 780.00h2.00v1.00h-2.00zM531.00 780.00h2.00v1.00h-2.00zM526.00 781.00h1.00v1.00h-1.00zM530.00 781.00h2.00v1.00h-2.00zM525.00 782.00h2.00v1.00h-2.00zM528.00 782.00h3.00v1.00h-3.00zM525.00 783.00h8.00v1.00h-8.00zM525.00 784.00h1.00v1.00h-1.00zM528.00 784.00h2.00v1.00h-2.00zM531.00 784.00h1.00v1.00h-1.00zM525.00 785.00h1.00v1.00h-1.00zM528.00 785.00h1.00v1.00h-1.00zM530.00 785.00h2.00v1.00h-2.00zM525.00 786.00h2.00v1.00h-2.00zM528.00 786.00h1.00v1.00h-1.00zM530.00 786.00h2.00v1.00h-2.00zM525.00 787.00h2.00v1.00h-2.00zM528.00 787.00h1.00v1.00h-1.00zM530.00 787.00h1.00v1.00h-1.00zM524.00 788.00h1.00v1.00h-1.00zM526.00 788.00h1.00v1.00h-1.00zM528.00 788.00h1.00v1.00h-1.00zM530.00 788.00h2.00v1.00h-2.00zM524.00 789.00h1.00v1.00h-1.00zM526.00 789.00h2.00v1.00h-2.00zM529.00 789.00h1.00v1.00h-1.00zM532.00 789.00h1.00v1.00h-1.00z"/>
<path d="M497,832.5 Q530,823 573,836.5 Q530,826.5 497,833.5Z" fill="#f27f90" stroke="#f27f90" stroke-width="0.8"/>
<text x="476" y="847.5" font-size="20" font-weight="bold" letter-spacing="0.9" fill="#f27f90" stroke="#f27f90" stroke-width="1.1">6xiu.com</text>
</svg></body></html>
